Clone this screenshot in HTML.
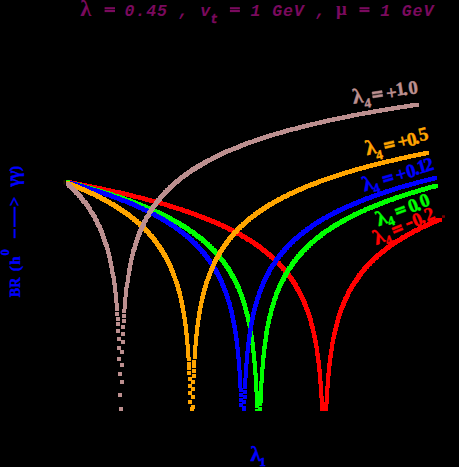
<!DOCTYPE html>
<html><head><meta charset="utf-8"><style>
html,body{margin:0;padding:0;background:#000;}
svg{display:block}
text{font-family:"Liberation Serif",serif;font-weight:bold}
.m{font-family:"Liberation Mono",monospace;font-style:italic;font-weight:bold;font-size:16.5px;fill:#7a0a5e}
.g{font-family:"Liberation Serif",serif;font-weight:bold;font-style:normal;fill:#7a0a5e}
</style></head><body>
<svg width="459" height="467" viewBox="0 0 459 467">
<rect width="459" height="467" fill="#000"/>
<defs><clipPath id="c"><rect x="0" y="0" width="459" height="411"/></clipPath></defs>
<g clip-path="url(#c)" shape-rendering="crispEdges">
<path fill="#ff0000" d="M66.1 180.1h4v4h-4zM66.9 180.3h4v4h-4zM67.7 180.4h4v4h-4zM68.6 180.6h4v4h-4zM69.4 180.8h4v4h-4zM70.3 180.9h4v4h-4zM71.1 181.1h4v4h-4zM71.9 181.2h4v4h-4zM72.8 181.4h4v4h-4zM73.6 181.5h4v4h-4zM74.5 181.7h4v4h-4zM75.3 181.9h4v4h-4zM76.1 182.0h4v4h-4zM77.0 182.2h4v4h-4zM77.8 182.3h4v4h-4zM78.7 182.5h4v4h-4zM79.5 182.7h4v4h-4zM80.3 182.8h4v4h-4zM81.2 183.0h4v4h-4zM82.0 183.2h4v4h-4zM82.9 183.3h4v4h-4zM83.7 183.5h4v4h-4zM84.5 183.7h4v4h-4zM85.4 183.8h4v4h-4zM86.2 184.0h4v4h-4zM87.1 184.2h4v4h-4zM87.9 184.3h4v4h-4zM88.7 184.5h4v4h-4zM89.6 184.7h4v4h-4zM90.4 184.8h4v4h-4zM91.3 185.0h4v4h-4zM92.1 185.2h4v4h-4zM92.9 185.4h4v4h-4zM93.8 185.5h4v4h-4zM94.6 185.7h4v4h-4zM95.5 185.9h4v4h-4zM96.3 186.0h4v4h-4zM97.1 186.2h4v4h-4zM98.0 186.4h4v4h-4zM98.8 186.6h4v4h-4zM99.7 186.8h4v4h-4zM100.5 186.9h4v4h-4zM101.3 187.1h4v4h-4zM102.2 187.3h4v4h-4zM103.0 187.5h4v4h-4zM103.9 187.6h4v4h-4zM104.7 187.8h4v4h-4zM105.5 188.0h4v4h-4zM106.4 188.2h4v4h-4zM107.2 188.4h4v4h-4zM108.1 188.6h4v4h-4zM108.9 188.7h4v4h-4zM109.7 188.9h4v4h-4zM110.6 189.1h4v4h-4zM111.4 189.3h4v4h-4zM112.3 189.5h4v4h-4zM113.1 189.7h4v4h-4zM113.9 189.9h4v4h-4zM114.8 190.1h4v4h-4zM115.6 190.3h4v4h-4zM116.5 190.4h4v4h-4zM117.3 190.6h4v4h-4zM118.1 190.8h4v4h-4zM119.0 191.0h4v4h-4zM119.8 191.2h4v4h-4zM120.7 191.4h4v4h-4zM121.5 191.6h4v4h-4zM122.3 191.8h4v4h-4zM123.2 192.0h4v4h-4zM124.0 192.2h4v4h-4zM124.9 192.4h4v4h-4zM125.7 192.6h4v4h-4zM126.5 192.8h4v4h-4zM127.4 193.0h4v4h-4zM128.2 193.2h4v4h-4zM129.1 193.4h4v4h-4zM129.9 193.6h4v4h-4zM130.7 193.8h4v4h-4zM131.6 194.0h4v4h-4zM132.4 194.2h4v4h-4zM133.3 194.5h4v4h-4zM134.1 194.7h4v4h-4zM134.9 194.9h4v4h-4zM135.8 195.1h4v4h-4zM136.6 195.3h4v4h-4zM137.5 195.5h4v4h-4zM138.3 195.7h4v4h-4zM139.1 195.9h4v4h-4zM140.0 196.2h4v4h-4zM140.8 196.4h4v4h-4zM141.7 196.6h4v4h-4zM142.5 196.8h4v4h-4zM143.3 197.0h4v4h-4zM144.2 197.3h4v4h-4zM145.0 197.5h4v4h-4zM145.9 197.7h4v4h-4zM146.7 197.9h4v4h-4zM147.5 198.2h4v4h-4zM148.4 198.4h4v4h-4zM149.2 198.6h4v4h-4zM150.1 198.8h4v4h-4zM150.9 199.1h4v4h-4zM151.7 199.3h4v4h-4zM152.6 199.5h4v4h-4zM153.4 199.8h4v4h-4zM154.3 200.0h4v4h-4zM155.1 200.2h4v4h-4zM155.9 200.5h4v4h-4zM156.8 200.7h4v4h-4zM157.6 201.0h4v4h-4zM158.5 201.2h4v4h-4zM159.3 201.4h4v4h-4zM160.1 201.7h4v4h-4zM161.0 201.9h4v4h-4zM161.8 202.2h4v4h-4zM162.7 202.4h4v4h-4zM163.5 202.7h4v4h-4zM164.3 202.9h4v4h-4zM165.2 203.2h4v4h-4zM166.0 203.4h4v4h-4zM166.9 203.7h4v4h-4zM167.7 203.9h4v4h-4zM168.5 204.2h4v4h-4zM169.4 204.5h4v4h-4zM170.2 204.7h4v4h-4zM171.1 205.0h4v4h-4zM171.9 205.2h4v4h-4zM172.7 205.5h4v4h-4zM173.6 205.8h4v4h-4zM174.4 206.0h4v4h-4zM175.3 206.3h4v4h-4zM176.1 206.6h4v4h-4zM176.9 206.8h4v4h-4zM177.8 207.1h4v4h-4zM178.6 207.4h4v4h-4zM179.5 207.7h4v4h-4zM180.3 207.9h4v4h-4zM181.1 208.2h4v4h-4zM182.0 208.5h4v4h-4zM182.8 208.8h4v4h-4zM183.7 209.1h4v4h-4zM184.5 209.4h4v4h-4zM185.3 209.6h4v4h-4zM186.2 209.9h4v4h-4zM187.0 210.2h4v4h-4zM187.9 210.5h4v4h-4zM188.7 210.8h4v4h-4zM189.5 211.1h4v4h-4zM190.4 211.4h4v4h-4zM191.2 211.7h4v4h-4zM192.1 212.0h4v4h-4zM192.9 212.3h4v4h-4zM193.7 212.6h4v4h-4zM194.6 212.9h4v4h-4zM195.4 213.3h4v4h-4zM196.3 213.6h4v4h-4zM197.1 213.9h4v4h-4zM197.9 214.2h4v4h-4zM198.8 214.5h4v4h-4zM199.6 214.8h4v4h-4zM200.5 215.2h4v4h-4zM201.3 215.5h4v4h-4zM202.1 215.8h4v4h-4zM203.0 216.2h4v4h-4zM203.8 216.5h4v4h-4zM204.7 216.8h4v4h-4zM205.5 217.2h4v4h-4zM206.3 217.5h4v4h-4zM207.2 217.8h4v4h-4zM208.0 218.2h4v4h-4zM208.9 218.5h4v4h-4zM209.7 218.9h4v4h-4zM210.5 219.2h4v4h-4zM211.4 219.6h4v4h-4zM212.2 220.0h4v4h-4zM213.1 220.3h4v4h-4zM213.9 220.7h4v4h-4zM214.7 221.0h4v4h-4zM215.6 221.4h4v4h-4zM216.4 221.8h4v4h-4zM217.3 222.2h4v4h-4zM218.1 222.5h4v4h-4zM218.9 222.9h4v4h-4zM219.8 223.3h4v4h-4zM220.6 223.7h4v4h-4zM221.5 224.1h4v4h-4zM222.3 224.5h4v4h-4zM223.1 224.9h4v4h-4zM224.0 225.3h4v4h-4zM224.8 225.7h4v4h-4zM225.5 226.0h4v4h-4zM226.3 226.4h4v4h-4zM227.0 226.7h4v4h-4zM227.7 227.1h4v4h-4zM228.4 227.5h4v4h-4zM229.1 227.8h4v4h-4zM229.9 228.2h4v4h-4zM230.6 228.6h4v4h-4zM231.3 228.9h4v4h-4zM232.0 229.3h4v4h-4zM232.7 229.7h4v4h-4zM233.5 230.1h4v4h-4zM234.2 230.5h4v4h-4zM234.9 230.8h4v4h-4zM235.6 231.2h4v4h-4zM236.3 231.6h4v4h-4zM237.1 232.0h4v4h-4zM237.8 232.4h4v4h-4zM238.5 232.8h4v4h-4zM239.2 233.2h4v4h-4zM239.9 233.6h4v4h-4zM240.7 234.1h4v4h-4zM241.4 234.5h4v4h-4zM242.1 234.9h4v4h-4zM242.8 235.3h4v4h-4zM243.5 235.8h4v4h-4zM244.3 236.2h4v4h-4zM245.0 236.6h4v4h-4zM245.7 237.1h4v4h-4zM246.4 237.5h4v4h-4zM247.1 238.0h4v4h-4zM247.9 238.4h4v4h-4zM248.6 238.9h4v4h-4zM249.3 239.3h4v4h-4zM250.0 239.8h4v4h-4zM250.7 240.3h4v4h-4zM251.5 240.8h4v4h-4zM252.2 241.2h4v4h-4zM252.9 241.7h4v4h-4zM253.6 242.2h4v4h-4zM254.3 242.7h4v4h-4zM255.1 243.2h4v4h-4zM255.8 243.7h4v4h-4zM256.5 244.2h4v4h-4zM257.2 244.8h4v4h-4zM257.9 245.3h4v4h-4zM258.7 245.8h4v4h-4zM259.4 246.4h4v4h-4zM260.1 246.9h4v4h-4zM260.8 247.5h4v4h-4zM261.5 248.0h4v4h-4zM262.3 248.6h4v4h-4zM263.0 249.1h4v4h-4zM263.7 249.7h4v4h-4zM264.4 250.3h4v4h-4zM265.1 250.9h4v4h-4zM265.9 251.5h4v4h-4zM266.6 252.1h4v4h-4zM267.3 252.7h4v4h-4zM268.0 253.3h4v4h-4zM268.7 254.0h4v4h-4zM269.3 254.5h4v4h-4zM269.9 255.0h4v4h-4zM270.5 255.6h4v4h-4zM271.1 256.1h4v4h-4zM271.7 256.7h4v4h-4zM272.3 257.3h4v4h-4zM272.9 257.8h4v4h-4zM273.5 258.4h4v4h-4zM274.1 259.0h4v4h-4zM274.7 259.6h4v4h-4zM275.3 260.2h4v4h-4zM275.9 260.8h4v4h-4zM276.5 261.4h4v4h-4zM277.1 262.0h4v4h-4zM277.7 262.7h4v4h-4zM278.3 263.3h4v4h-4zM278.9 264.0h4v4h-4zM279.5 264.6h4v4h-4zM280.1 265.3h4v4h-4zM280.7 266.0h4v4h-4zM281.3 266.7h4v4h-4zM281.9 267.4h4v4h-4zM282.5 268.1h4v4h-4zM283.1 268.8h4v4h-4zM283.7 269.5h4v4h-4zM284.3 270.3h4v4h-4zM284.9 271.0h4v4h-4zM285.5 271.8h4v4h-4zM286.1 272.6h4v4h-4zM286.7 273.4h4v4h-4zM287.2 274.0h4v4h-4zM287.7 274.7h4v4h-4zM288.2 275.3h4v4h-4zM288.7 276.0h4v4h-4zM289.1 276.7h4v4h-4zM289.6 277.4h4v4h-4zM290.1 278.1h4v4h-4zM290.6 278.8h4v4h-4zM291.1 279.5h4v4h-4zM291.5 280.2h4v4h-4zM292.0 281.0h4v4h-4zM292.5 281.7h4v4h-4zM293.0 282.5h4v4h-4zM293.5 283.3h4v4h-4zM293.9 284.1h4v4h-4zM294.4 284.9h4v4h-4zM294.9 285.7h4v4h-4zM295.4 286.6h4v4h-4zM295.9 287.4h4v4h-4zM296.3 288.3h4v4h-4zM296.8 289.2h4v4h-4zM297.3 290.1h4v4h-4zM297.8 291.0h4v4h-4zM298.3 291.9h4v4h-4zM298.6 292.6h4v4h-4zM299.0 293.4h4v4h-4zM299.3 294.1h4v4h-4zM299.7 294.9h4v4h-4zM300.1 295.6h4v4h-4zM300.4 296.4h4v4h-4zM300.8 297.2h4v4h-4zM301.1 298.0h4v4h-4zM301.5 298.8h4v4h-4zM301.9 299.6h4v4h-4zM302.2 300.5h4v4h-4zM302.6 301.3h4v4h-4zM302.9 302.2h4v4h-4zM303.3 303.1h4v4h-4zM303.7 304.0h4v4h-4zM304.0 305.0h4v4h-4zM304.4 305.9h4v4h-4zM304.7 306.9h4v4h-4zM305.1 307.9h4v4h-4zM305.5 308.9h4v4h-4zM305.8 309.9h4v4h-4zM306.2 310.9h4v4h-4zM306.5 312.0h4v4h-4zM306.9 313.1h4v4h-4zM307.3 314.3h4v4h-4zM307.5 315.0h4v4h-4zM307.7 315.8h4v4h-4zM308.0 316.6h4v4h-4zM308.2 317.4h4v4h-4zM308.5 318.2h4v4h-4zM308.7 319.1h4v4h-4zM308.9 319.9h4v4h-4zM309.2 320.8h4v4h-4zM309.4 321.7h4v4h-4zM309.7 322.6h4v4h-4zM309.9 323.5h4v4h-4zM310.1 324.4h4v4h-4zM310.4 325.4h4v4h-4zM310.6 326.3h4v4h-4zM310.9 327.3h4v4h-4zM311.1 328.4h4v4h-4zM311.3 329.4h4v4h-4zM311.6 330.5h4v4h-4zM311.8 331.5h4v4h-4zM312.1 332.7h4v4h-4zM312.3 333.8h4v4h-4zM312.5 335.0h4v4h-4zM312.8 336.2h4v4h-4zM313.0 337.4h4v4h-4zM313.3 338.6h4v4h-4zM313.5 339.9h4v4h-4zM313.7 341.3h4v4h-4zM314.0 342.6h4v4h-4zM314.2 344.1h4v4h-4zM314.5 345.5h4v4h-4zM314.7 347.0h4v4h-4zM314.9 348.6h4v4h-4zM315.1 349.4h4v4h-4zM315.2 350.2h4v4h-4zM315.3 351.0h4v4h-4zM315.4 351.8h4v4h-4zM315.5 352.7h4v4h-4zM315.7 353.6h4v4h-4zM315.8 354.4h4v4h-4zM315.9 355.3h4v4h-4zM316.0 356.3h4v4h-4zM316.1 357.2h4v4h-4zM316.3 358.2h4v4h-4zM316.4 359.1h4v4h-4zM316.5 360.1h4v4h-4zM316.6 361.1h4v4h-4zM316.7 362.2h4v4h-4zM316.9 363.3h4v4h-4zM317.0 364.3h4v4h-4zM317.1 365.5h4v4h-4zM317.2 366.6h4v4h-4zM317.3 367.8h4v4h-4zM317.5 369.0h4v4h-4zM317.6 370.2h4v4h-4zM317.7 371.5h4v4h-4zM317.8 372.8h4v4h-4zM317.9 374.1h4v4h-4zM318.1 375.5h4v4h-4zM318.2 376.9h4v4h-4zM318.3 378.4h4v4h-4zM318.4 379.9h4v4h-4zM318.5 381.4h4v4h-4zM318.7 383.0h4v4h-4zM318.8 384.7h4v4h-4zM318.9 386.4h4v4h-4zM319.0 388.2h4v4h-4zM319.1 390.1h4v4h-4zM319.3 392.0h4v4h-4zM319.4 394.1h4v4h-4zM319.5 396.2h4v4h-4zM319.6 398.4h4v4h-4zM319.7 400.7h4v4h-4zM319.9 403.2h4v4h-4zM320.0 405.8h4v4h-4zM320.1 408.5h4v4h-4zM324.2 407.1h4v4h-4zM324.3 404.4h4v4h-4zM324.4 401.9h4v4h-4zM324.5 399.5h4v4h-4zM324.7 397.3h4v4h-4zM324.8 395.1h4v4h-4zM324.9 393.0h4v4h-4zM325.0 391.1h4v4h-4zM325.1 389.2h4v4h-4zM325.3 387.3h4v4h-4zM325.4 385.6h4v4h-4zM325.5 383.9h4v4h-4zM325.6 382.2h4v4h-4zM325.7 380.6h4v4h-4zM325.9 379.1h4v4h-4zM326.0 377.6h4v4h-4zM326.1 376.2h4v4h-4zM326.2 374.8h4v4h-4zM326.3 373.4h4v4h-4zM326.5 372.1h4v4h-4zM326.6 370.8h4v4h-4zM326.7 369.6h4v4h-4zM326.8 368.4h4v4h-4zM326.9 367.2h4v4h-4zM327.1 366.0h4v4h-4zM327.2 364.9h4v4h-4zM327.3 363.8h4v4h-4zM327.4 362.7h4v4h-4zM327.5 361.7h4v4h-4zM327.7 360.6h4v4h-4zM327.8 359.6h4v4h-4zM327.9 358.6h4v4h-4zM328.0 357.7h4v4h-4zM328.1 356.7h4v4h-4zM328.3 355.8h4v4h-4zM328.4 354.9h4v4h-4zM328.5 354.0h4v4h-4zM328.6 353.1h4v4h-4zM328.7 352.3h4v4h-4zM328.9 351.4h4v4h-4zM329.0 350.6h4v4h-4zM329.1 349.8h4v4h-4zM329.2 349.0h4v4h-4zM329.5 347.4h4v4h-4zM329.7 345.9h4v4h-4zM329.9 344.4h4v4h-4zM330.2 343.0h4v4h-4zM330.4 341.6h4v4h-4zM330.7 340.3h4v4h-4zM330.9 339.0h4v4h-4zM331.1 337.7h4v4h-4zM331.4 336.5h4v4h-4zM331.6 335.3h4v4h-4zM331.9 334.1h4v4h-4zM332.1 332.9h4v4h-4zM332.3 331.8h4v4h-4zM332.6 330.7h4v4h-4zM332.8 329.7h4v4h-4zM333.1 328.6h4v4h-4zM333.3 327.6h4v4h-4zM333.5 326.6h4v4h-4zM333.8 325.6h4v4h-4zM334.0 324.7h4v4h-4zM334.3 323.7h4v4h-4zM334.5 322.8h4v4h-4zM334.7 321.9h4v4h-4zM335.0 321.0h4v4h-4zM335.2 320.1h4v4h-4zM335.5 319.3h4v4h-4zM335.7 318.4h4v4h-4zM335.9 317.6h4v4h-4zM336.2 316.8h4v4h-4zM336.4 316.0h4v4h-4zM336.7 315.2h4v4h-4zM336.9 314.4h4v4h-4zM337.3 313.3h4v4h-4zM337.6 312.2h4v4h-4zM338.0 311.1h4v4h-4zM338.3 310.1h4v4h-4zM338.7 309.0h4v4h-4zM339.1 308.0h4v4h-4zM339.4 307.0h4v4h-4zM339.8 306.1h4v4h-4zM340.1 305.1h4v4h-4zM340.5 304.2h4v4h-4zM340.9 303.3h4v4h-4zM341.2 302.4h4v4h-4zM341.6 301.5h4v4h-4zM341.9 300.6h4v4h-4zM342.3 299.8h4v4h-4zM342.7 298.9h4v4h-4zM343.0 298.1h4v4h-4zM343.4 297.3h4v4h-4zM343.7 296.5h4v4h-4zM344.1 295.8h4v4h-4zM344.5 295.0h4v4h-4zM344.8 294.2h4v4h-4zM345.2 293.5h4v4h-4zM345.5 292.8h4v4h-4zM345.9 292.0h4v4h-4zM346.4 291.1h4v4h-4zM346.9 290.2h4v4h-4zM347.3 289.3h4v4h-4zM347.8 288.4h4v4h-4zM348.3 287.5h4v4h-4zM348.8 286.7h4v4h-4zM349.3 285.8h4v4h-4zM349.7 285.0h4v4h-4zM350.2 284.2h4v4h-4zM350.7 283.4h4v4h-4zM351.2 282.6h4v4h-4zM351.7 281.8h4v4h-4zM352.1 281.1h4v4h-4zM352.6 280.3h4v4h-4zM353.1 279.6h4v4h-4zM353.6 278.9h4v4h-4zM354.1 278.2h4v4h-4zM354.5 277.5h4v4h-4zM355.0 276.8h4v4h-4zM355.5 276.1h4v4h-4zM356.0 275.4h4v4h-4zM356.5 274.7h4v4h-4zM356.9 274.1h4v4h-4zM357.4 273.4h4v4h-4zM358.0 272.6h4v4h-4zM358.6 271.9h4v4h-4zM359.2 271.1h4v4h-4zM359.8 270.3h4v4h-4zM360.4 269.6h4v4h-4zM361.0 268.9h4v4h-4zM361.6 268.1h4v4h-4zM362.2 267.4h4v4h-4zM362.8 266.7h4v4h-4zM363.4 266.0h4v4h-4zM364.0 265.4h4v4h-4zM364.6 264.7h4v4h-4zM365.2 264.0h4v4h-4zM365.8 263.4h4v4h-4zM366.4 262.7h4v4h-4zM367.0 262.1h4v4h-4zM367.6 261.5h4v4h-4zM368.2 260.9h4v4h-4zM368.8 260.3h4v4h-4zM369.4 259.7h4v4h-4zM370.0 259.1h4v4h-4zM370.6 258.5h4v4h-4zM371.2 257.9h4v4h-4zM371.8 257.3h4v4h-4zM372.4 256.8h4v4h-4zM373.0 256.2h4v4h-4zM373.6 255.6h4v4h-4zM374.2 255.1h4v4h-4zM374.8 254.6h4v4h-4zM375.4 254.0h4v4h-4zM376.1 253.4h4v4h-4zM376.9 252.8h4v4h-4zM377.6 252.2h4v4h-4zM378.3 251.6h4v4h-4zM379.0 251.0h4v4h-4zM379.7 250.4h4v4h-4zM380.5 249.8h4v4h-4zM381.2 249.2h4v4h-4zM381.9 248.6h4v4h-4zM382.6 248.1h4v4h-4zM383.3 247.5h4v4h-4zM384.1 247.0h4v4h-4zM384.8 246.4h4v4h-4zM385.5 245.9h4v4h-4zM386.2 245.3h4v4h-4zM386.9 244.8h4v4h-4zM387.7 244.3h4v4h-4zM388.4 243.8h4v4h-4zM389.1 243.3h4v4h-4zM389.8 242.8h4v4h-4zM390.5 242.3h4v4h-4zM391.3 241.8h4v4h-4zM392.0 241.3h4v4h-4zM392.7 240.8h4v4h-4zM393.4 240.3h4v4h-4zM394.1 239.9h4v4h-4zM394.9 239.4h4v4h-4zM395.6 238.9h4v4h-4zM396.3 238.5h4v4h-4zM397.0 238.0h4v4h-4zM397.7 237.6h4v4h-4zM398.5 237.1h4v4h-4zM399.2 236.7h4v4h-4zM399.9 236.2h4v4h-4zM400.6 235.8h4v4h-4zM401.3 235.4h4v4h-4zM402.1 234.9h4v4h-4zM402.8 234.5h4v4h-4zM403.5 234.1h4v4h-4zM404.2 233.7h4v4h-4zM404.9 233.3h4v4h-4zM405.7 232.9h4v4h-4zM406.4 232.5h4v4h-4zM407.1 232.1h4v4h-4zM407.8 231.7h4v4h-4zM408.5 231.3h4v4h-4zM409.3 230.9h4v4h-4zM410.0 230.5h4v4h-4zM410.7 230.1h4v4h-4zM411.4 229.7h4v4h-4zM412.1 229.3h4v4h-4zM412.9 229.0h4v4h-4zM413.6 228.6h4v4h-4zM414.3 228.2h4v4h-4zM415.0 227.9h4v4h-4zM415.7 227.5h4v4h-4zM416.5 227.1h4v4h-4zM417.2 226.8h4v4h-4zM417.9 226.4h4v4h-4zM418.6 226.1h4v4h-4zM419.3 225.7h4v4h-4zM420.2 225.3h4v4h-4zM421.0 224.9h4v4h-4zM421.9 224.5h4v4h-4zM422.7 224.1h4v4h-4zM423.5 223.7h4v4h-4zM424.4 223.3h4v4h-4zM425.2 223.0h4v4h-4zM426.1 222.6h4v4h-4zM426.9 222.2h4v4h-4zM427.7 221.8h4v4h-4zM428.6 221.4h4v4h-4zM429.4 221.1h4v4h-4zM430.3 220.7h4v4h-4zM431.1 220.3h4v4h-4zM431.9 220.0h4v4h-4zM432.8 219.6h4v4h-4zM433.6 219.3h4v4h-4zM434.5 218.9h4v4h-4zM435.3 218.6h4v4h-4zM436.1 218.2h4v4h-4zM437.0 217.9h4v4h-4zM437.8 217.5h4v4h-4z"/>
<path fill="#00ff00" d="M66.1 180.4h4v4h-4zM66.9 180.6h4v4h-4zM67.7 180.9h4v4h-4zM68.6 181.1h4v4h-4zM69.4 181.3h4v4h-4zM70.3 181.5h4v4h-4zM71.1 181.7h4v4h-4zM71.9 181.9h4v4h-4zM72.8 182.1h4v4h-4zM73.6 182.3h4v4h-4zM74.5 182.6h4v4h-4zM75.3 182.8h4v4h-4zM76.1 183.0h4v4h-4zM77.0 183.2h4v4h-4zM77.8 183.4h4v4h-4zM78.7 183.7h4v4h-4zM79.5 183.9h4v4h-4zM80.3 184.1h4v4h-4zM81.2 184.3h4v4h-4zM82.0 184.5h4v4h-4zM82.9 184.8h4v4h-4zM83.7 185.0h4v4h-4zM84.5 185.2h4v4h-4zM85.4 185.5h4v4h-4zM86.2 185.7h4v4h-4zM87.1 185.9h4v4h-4zM87.9 186.2h4v4h-4zM88.7 186.4h4v4h-4zM89.6 186.6h4v4h-4zM90.4 186.9h4v4h-4zM91.3 187.1h4v4h-4zM92.1 187.3h4v4h-4zM92.9 187.6h4v4h-4zM93.8 187.8h4v4h-4zM94.6 188.1h4v4h-4zM95.5 188.3h4v4h-4zM96.3 188.6h4v4h-4zM97.1 188.8h4v4h-4zM98.0 189.1h4v4h-4zM98.8 189.3h4v4h-4zM99.7 189.6h4v4h-4zM100.5 189.8h4v4h-4zM101.3 190.1h4v4h-4zM102.2 190.3h4v4h-4zM103.0 190.6h4v4h-4zM103.9 190.8h4v4h-4zM104.7 191.1h4v4h-4zM105.5 191.4h4v4h-4zM106.4 191.6h4v4h-4zM107.2 191.9h4v4h-4zM108.1 192.1h4v4h-4zM108.9 192.4h4v4h-4zM109.7 192.7h4v4h-4zM110.6 192.9h4v4h-4zM111.4 193.2h4v4h-4zM112.3 193.5h4v4h-4zM113.1 193.8h4v4h-4zM113.9 194.0h4v4h-4zM114.8 194.3h4v4h-4zM115.6 194.6h4v4h-4zM116.5 194.9h4v4h-4zM117.3 195.2h4v4h-4zM118.1 195.4h4v4h-4zM119.0 195.7h4v4h-4zM119.8 196.0h4v4h-4zM120.7 196.3h4v4h-4zM121.5 196.6h4v4h-4zM122.3 196.9h4v4h-4zM123.2 197.2h4v4h-4zM124.0 197.5h4v4h-4zM124.9 197.8h4v4h-4zM125.7 198.1h4v4h-4zM126.5 198.4h4v4h-4zM127.4 198.7h4v4h-4zM128.2 199.0h4v4h-4zM129.1 199.3h4v4h-4zM129.9 199.6h4v4h-4zM130.7 199.9h4v4h-4zM131.6 200.2h4v4h-4zM132.4 200.6h4v4h-4zM133.3 200.9h4v4h-4zM134.1 201.2h4v4h-4zM134.9 201.5h4v4h-4zM135.8 201.9h4v4h-4zM136.6 202.2h4v4h-4zM137.5 202.5h4v4h-4zM138.3 202.8h4v4h-4zM139.1 203.2h4v4h-4zM140.0 203.5h4v4h-4zM140.8 203.9h4v4h-4zM141.7 204.2h4v4h-4zM142.5 204.5h4v4h-4zM143.3 204.9h4v4h-4zM144.2 205.2h4v4h-4zM145.0 205.6h4v4h-4zM145.9 206.0h4v4h-4zM146.7 206.3h4v4h-4zM147.5 206.7h4v4h-4zM148.4 207.0h4v4h-4zM149.2 207.4h4v4h-4zM150.1 207.8h4v4h-4zM150.9 208.1h4v4h-4zM151.7 208.5h4v4h-4zM152.6 208.9h4v4h-4zM153.4 209.3h4v4h-4zM154.3 209.7h4v4h-4zM155.1 210.1h4v4h-4zM155.9 210.4h4v4h-4zM156.8 210.8h4v4h-4zM157.6 211.2h4v4h-4zM158.5 211.6h4v4h-4zM159.3 212.0h4v4h-4zM160.1 212.4h4v4h-4zM161.0 212.9h4v4h-4zM161.8 213.3h4v4h-4zM162.7 213.7h4v4h-4zM163.5 214.1h4v4h-4zM164.3 214.5h4v4h-4zM165.2 215.0h4v4h-4zM166.0 215.4h4v4h-4zM166.9 215.8h4v4h-4zM167.7 216.3h4v4h-4zM168.5 216.7h4v4h-4zM169.4 217.2h4v4h-4zM170.2 217.6h4v4h-4zM171.1 218.1h4v4h-4zM171.9 218.6h4v4h-4zM172.6 219.0h4v4h-4zM173.3 219.3h4v4h-4zM174.0 219.7h4v4h-4zM174.7 220.1h4v4h-4zM175.4 220.5h4v4h-4zM176.1 221.0h4v4h-4zM176.8 221.4h4v4h-4zM177.5 221.8h4v4h-4zM178.2 222.2h4v4h-4zM178.9 222.6h4v4h-4zM179.6 223.0h4v4h-4zM180.3 223.5h4v4h-4zM181.0 223.9h4v4h-4zM181.7 224.3h4v4h-4zM182.4 224.8h4v4h-4zM183.1 225.2h4v4h-4zM183.8 225.7h4v4h-4zM184.5 226.1h4v4h-4zM185.2 226.6h4v4h-4zM185.9 227.1h4v4h-4zM186.6 227.5h4v4h-4zM187.3 228.0h4v4h-4zM188.0 228.5h4v4h-4zM188.7 229.0h4v4h-4zM189.4 229.5h4v4h-4zM190.1 229.9h4v4h-4zM190.8 230.4h4v4h-4zM191.5 230.9h4v4h-4zM192.2 231.5h4v4h-4zM192.9 232.0h4v4h-4zM193.6 232.5h4v4h-4zM194.3 233.0h4v4h-4zM195.0 233.5h4v4h-4zM195.7 234.1h4v4h-4zM196.4 234.6h4v4h-4zM197.1 235.2h4v4h-4zM197.8 235.7h4v4h-4zM198.5 236.3h4v4h-4zM199.2 236.9h4v4h-4zM199.9 237.4h4v4h-4zM200.6 238.0h4v4h-4zM201.3 238.6h4v4h-4zM202.0 239.2h4v4h-4zM202.7 239.8h4v4h-4zM203.4 240.4h4v4h-4zM204.1 241.1h4v4h-4zM204.8 241.7h4v4h-4zM205.5 242.3h4v4h-4zM206.2 243.0h4v4h-4zM206.9 243.6h4v4h-4zM207.6 244.3h4v4h-4zM208.3 245.0h4v4h-4zM209.0 245.7h4v4h-4zM209.7 246.4h4v4h-4zM210.4 247.1h4v4h-4zM211.0 247.6h4v4h-4zM211.5 248.2h4v4h-4zM212.1 248.8h4v4h-4zM212.6 249.4h4v4h-4zM213.2 250.0h4v4h-4zM213.8 250.6h4v4h-4zM214.3 251.2h4v4h-4zM214.9 251.9h4v4h-4zM215.4 252.5h4v4h-4zM216.0 253.1h4v4h-4zM216.6 253.8h4v4h-4zM217.1 254.5h4v4h-4zM217.7 255.1h4v4h-4zM218.2 255.8h4v4h-4zM218.8 256.5h4v4h-4zM219.4 257.2h4v4h-4zM219.9 257.9h4v4h-4zM220.5 258.6h4v4h-4zM221.0 259.4h4v4h-4zM221.6 260.1h4v4h-4zM222.2 260.9h4v4h-4zM222.7 261.6h4v4h-4zM223.3 262.4h4v4h-4zM223.8 263.2h4v4h-4zM224.4 264.0h4v4h-4zM225.0 264.9h4v4h-4zM225.5 265.7h4v4h-4zM226.1 266.5h4v4h-4zM226.6 267.4h4v4h-4zM227.2 268.3h4v4h-4zM227.8 269.2h4v4h-4zM228.2 269.9h4v4h-4zM228.6 270.6h4v4h-4zM229.0 271.3h4v4h-4zM229.4 272.0h4v4h-4zM229.9 272.8h4v4h-4zM230.3 273.5h4v4h-4zM230.7 274.3h4v4h-4zM231.1 275.0h4v4h-4zM231.5 275.8h4v4h-4zM232.0 276.6h4v4h-4zM232.4 277.4h4v4h-4zM232.8 278.2h4v4h-4zM233.2 279.1h4v4h-4zM233.6 279.9h4v4h-4zM234.1 280.8h4v4h-4zM234.5 281.7h4v4h-4zM234.9 282.6h4v4h-4zM235.3 283.5h4v4h-4zM235.7 284.4h4v4h-4zM236.2 285.4h4v4h-4zM236.6 286.3h4v4h-4zM237.0 287.3h4v4h-4zM237.4 288.3h4v4h-4zM237.8 289.4h4v4h-4zM238.3 290.4h4v4h-4zM238.7 291.5h4v4h-4zM239.1 292.6h4v4h-4zM239.4 293.4h4v4h-4zM239.7 294.2h4v4h-4zM239.9 294.9h4v4h-4zM240.2 295.7h4v4h-4zM240.5 296.5h4v4h-4zM240.8 297.4h4v4h-4zM241.1 298.2h4v4h-4zM241.3 299.0h4v4h-4zM241.6 299.9h4v4h-4zM241.9 300.8h4v4h-4zM242.2 301.7h4v4h-4zM242.5 302.6h4v4h-4zM242.7 303.6h4v4h-4zM243.0 304.5h4v4h-4zM243.3 305.5h4v4h-4zM243.6 306.5h4v4h-4zM243.9 307.5h4v4h-4zM244.1 308.5h4v4h-4zM244.4 309.6h4v4h-4zM244.7 310.7h4v4h-4zM245.0 311.8h4v4h-4zM245.3 312.9h4v4h-4zM245.5 314.1h4v4h-4zM245.8 315.3h4v4h-4zM246.1 316.5h4v4h-4zM246.4 317.8h4v4h-4zM246.7 319.1h4v4h-4zM246.9 320.4h4v4h-4zM247.2 321.8h4v4h-4zM247.5 323.2h4v4h-4zM247.8 324.6h4v4h-4zM248.1 326.1h4v4h-4zM248.3 327.7h4v4h-4zM248.5 328.5h4v4h-4zM248.6 329.3h4v4h-4zM248.8 330.1h4v4h-4zM248.9 331.0h4v4h-4zM249.0 331.8h4v4h-4zM249.2 332.7h4v4h-4zM249.3 333.6h4v4h-4zM249.5 334.5h4v4h-4zM249.6 335.4h4v4h-4zM249.7 336.3h4v4h-4zM249.9 337.3h4v4h-4zM250.0 338.3h4v4h-4zM250.2 339.3h4v4h-4zM250.3 340.3h4v4h-4zM250.4 341.3h4v4h-4zM250.6 342.4h4v4h-4zM250.7 343.5h4v4h-4zM250.9 344.6h4v4h-4zM251.0 345.7h4v4h-4zM251.1 346.9h4v4h-4zM251.3 348.1h4v4h-4zM251.4 349.3h4v4h-4zM251.6 350.6h4v4h-4zM251.7 351.9h4v4h-4zM251.8 353.2h4v4h-4zM252.0 354.6h4v4h-4zM252.1 356.0h4v4h-4zM252.3 357.5h4v4h-4zM252.4 359.0h4v4h-4zM252.5 360.6h4v4h-4zM252.7 362.2h4v4h-4zM252.8 363.8h4v4h-4zM253.0 365.6h4v4h-4zM253.1 367.4h4v4h-4zM253.2 369.2h4v4h-4zM253.4 371.2h4v4h-4zM253.5 373.2h4v4h-4zM253.7 375.3h4v4h-4zM253.8 377.5h4v4h-4zM253.9 379.9h4v4h-4zM254.1 382.3h4v4h-4zM254.2 384.9h4v4h-4zM254.4 387.6h4v4h-4zM254.5 390.5h4v4h-4zM254.6 393.6h4v4h-4zM254.8 396.9h4v4h-4zM254.9 400.5h4v4h-4zM255.1 404.3h4v4h-4zM255.2 408.5h4v4h-4zM258.3 407.0h4v4h-4zM258.4 402.4h4v4h-4zM258.6 398.7h4v4h-4zM258.7 395.2h4v4h-4zM258.8 392.0h4v4h-4zM259.0 389.1h4v4h-4zM259.1 386.2h4v4h-4zM259.3 383.6h4v4h-4zM259.4 381.1h4v4h-4zM259.5 378.7h4v4h-4zM259.7 376.4h4v4h-4zM259.8 374.2h4v4h-4zM260.0 372.2h4v4h-4zM260.1 370.2h4v4h-4zM260.2 368.3h4v4h-4zM260.4 366.5h4v4h-4zM260.5 364.7h4v4h-4zM260.7 363.0h4v4h-4zM260.8 361.4h4v4h-4zM260.9 359.8h4v4h-4zM261.1 358.2h4v4h-4zM261.2 356.8h4v4h-4zM261.4 355.3h4v4h-4zM261.5 353.9h4v4h-4zM261.6 352.6h4v4h-4zM261.8 351.2h4v4h-4zM261.9 350.0h4v4h-4zM262.1 348.7h4v4h-4zM262.2 347.5h4v4h-4zM262.3 346.3h4v4h-4zM262.5 345.2h4v4h-4zM262.6 344.0h4v4h-4zM262.8 342.9h4v4h-4zM262.9 341.9h4v4h-4zM263.0 340.8h4v4h-4zM263.2 339.8h4v4h-4zM263.3 338.8h4v4h-4zM263.5 337.8h4v4h-4zM263.6 336.8h4v4h-4zM263.7 335.9h4v4h-4zM263.9 334.9h4v4h-4zM264.0 334.0h4v4h-4zM264.2 333.1h4v4h-4zM264.3 332.3h4v4h-4zM264.4 331.4h4v4h-4zM264.6 330.5h4v4h-4zM264.7 329.7h4v4h-4zM264.9 328.9h4v4h-4zM265.0 328.1h4v4h-4zM265.1 327.3h4v4h-4zM265.4 325.8h4v4h-4zM265.7 324.3h4v4h-4zM266.0 322.8h4v4h-4zM266.3 321.4h4v4h-4zM266.5 320.1h4v4h-4zM266.8 318.7h4v4h-4zM267.1 317.5h4v4h-4zM267.4 316.2h4v4h-4zM267.7 315.0h4v4h-4zM267.9 313.8h4v4h-4zM268.2 312.6h4v4h-4zM268.5 311.5h4v4h-4zM268.8 310.4h4v4h-4zM269.1 309.3h4v4h-4zM269.3 308.3h4v4h-4zM269.6 307.2h4v4h-4zM269.9 306.2h4v4h-4zM270.2 305.2h4v4h-4zM270.5 304.3h4v4h-4zM270.7 303.3h4v4h-4zM271.0 302.4h4v4h-4zM271.3 301.5h4v4h-4zM271.6 300.6h4v4h-4zM271.9 299.7h4v4h-4zM272.1 298.8h4v4h-4zM272.4 298.0h4v4h-4zM272.7 297.2h4v4h-4zM273.0 296.3h4v4h-4zM273.3 295.5h4v4h-4zM273.5 294.7h4v4h-4zM273.8 294.0h4v4h-4zM274.1 293.2h4v4h-4zM274.4 292.4h4v4h-4zM274.8 291.3h4v4h-4zM275.2 290.3h4v4h-4zM275.6 289.2h4v4h-4zM276.1 288.2h4v4h-4zM276.5 287.2h4v4h-4zM276.9 286.2h4v4h-4zM277.3 285.2h4v4h-4zM277.7 284.2h4v4h-4zM278.2 283.3h4v4h-4zM278.6 282.4h4v4h-4zM279.0 281.5h4v4h-4zM279.4 280.6h4v4h-4zM279.8 279.8h4v4h-4zM280.3 278.9h4v4h-4zM280.7 278.1h4v4h-4zM281.1 277.3h4v4h-4zM281.5 276.5h4v4h-4zM281.9 275.7h4v4h-4zM282.4 274.9h4v4h-4zM282.8 274.1h4v4h-4zM283.2 273.4h4v4h-4zM283.6 272.6h4v4h-4zM284.0 271.9h4v4h-4zM284.5 271.2h4v4h-4zM284.9 270.5h4v4h-4zM285.3 269.8h4v4h-4zM285.7 269.1h4v4h-4zM286.3 268.2h4v4h-4zM286.8 267.3h4v4h-4zM287.4 266.4h4v4h-4zM288.0 265.6h4v4h-4zM288.5 264.8h4v4h-4zM289.1 263.9h4v4h-4zM289.6 263.1h4v4h-4zM290.2 262.3h4v4h-4zM290.8 261.5h4v4h-4zM291.3 260.8h4v4h-4zM291.9 260.0h4v4h-4zM292.4 259.3h4v4h-4zM293.0 258.5h4v4h-4zM293.6 257.8h4v4h-4zM294.1 257.1h4v4h-4zM294.7 256.4h4v4h-4zM295.2 255.7h4v4h-4zM295.8 255.0h4v4h-4zM296.4 254.4h4v4h-4zM296.9 253.7h4v4h-4zM297.5 253.1h4v4h-4zM298.0 252.4h4v4h-4zM298.6 251.8h4v4h-4zM299.2 251.2h4v4h-4zM299.7 250.5h4v4h-4zM300.3 249.9h4v4h-4zM300.8 249.3h4v4h-4zM301.4 248.7h4v4h-4zM302.0 248.2h4v4h-4zM302.5 247.6h4v4h-4zM303.1 247.0h4v4h-4zM303.8 246.3h4v4h-4zM304.5 245.6h4v4h-4zM305.2 244.9h4v4h-4zM305.9 244.2h4v4h-4zM306.6 243.6h4v4h-4zM307.3 242.9h4v4h-4zM308.0 242.3h4v4h-4zM308.7 241.6h4v4h-4zM309.4 241.0h4v4h-4zM310.1 240.4h4v4h-4zM310.8 239.8h4v4h-4zM311.5 239.2h4v4h-4zM312.2 238.6h4v4h-4zM312.9 238.0h4v4h-4zM313.6 237.4h4v4h-4zM314.3 236.8h4v4h-4zM315.0 236.2h4v4h-4zM315.7 235.7h4v4h-4zM316.4 235.1h4v4h-4zM317.1 234.6h4v4h-4zM317.8 234.0h4v4h-4zM318.5 233.5h4v4h-4zM319.2 233.0h4v4h-4zM319.9 232.4h4v4h-4zM320.6 231.9h4v4h-4zM321.3 231.4h4v4h-4zM322.0 230.9h4v4h-4zM322.7 230.4h4v4h-4zM323.4 229.9h4v4h-4zM324.1 229.4h4v4h-4zM324.8 228.9h4v4h-4zM325.5 228.4h4v4h-4zM326.2 228.0h4v4h-4zM326.9 227.5h4v4h-4zM327.6 227.0h4v4h-4zM328.3 226.6h4v4h-4zM329.0 226.1h4v4h-4zM329.7 225.6h4v4h-4zM330.4 225.2h4v4h-4zM331.1 224.7h4v4h-4zM331.8 224.3h4v4h-4zM332.5 223.9h4v4h-4zM333.2 223.4h4v4h-4zM333.9 223.0h4v4h-4zM334.6 222.6h4v4h-4zM335.3 222.2h4v4h-4zM336.0 221.7h4v4h-4zM336.7 221.3h4v4h-4zM337.4 220.9h4v4h-4zM338.1 220.5h4v4h-4zM338.8 220.1h4v4h-4zM339.5 219.7h4v4h-4zM340.2 219.3h4v4h-4zM340.9 218.9h4v4h-4zM341.6 218.5h4v4h-4zM342.4 218.1h4v4h-4zM343.3 217.6h4v4h-4zM344.1 217.1h4v4h-4zM344.9 216.7h4v4h-4zM345.8 216.3h4v4h-4zM346.6 215.8h4v4h-4zM347.5 215.4h4v4h-4zM348.3 214.9h4v4h-4zM349.1 214.5h4v4h-4zM350.0 214.1h4v4h-4zM350.8 213.7h4v4h-4zM351.7 213.2h4v4h-4zM352.5 212.8h4v4h-4zM353.3 212.4h4v4h-4zM354.2 212.0h4v4h-4zM355.0 211.6h4v4h-4zM355.9 211.2h4v4h-4zM356.7 210.8h4v4h-4zM357.5 210.4h4v4h-4zM358.4 210.0h4v4h-4zM359.2 209.6h4v4h-4zM360.1 209.2h4v4h-4zM360.9 208.9h4v4h-4zM361.7 208.5h4v4h-4zM362.6 208.1h4v4h-4zM363.4 207.7h4v4h-4zM364.3 207.4h4v4h-4zM365.1 207.0h4v4h-4zM365.9 206.6h4v4h-4zM366.8 206.3h4v4h-4zM367.6 205.9h4v4h-4zM368.5 205.6h4v4h-4zM369.3 205.2h4v4h-4zM370.1 204.9h4v4h-4zM371.0 204.5h4v4h-4zM371.8 204.2h4v4h-4zM372.7 203.8h4v4h-4zM373.5 203.5h4v4h-4zM374.3 203.2h4v4h-4zM375.2 202.8h4v4h-4zM376.0 202.5h4v4h-4zM376.9 202.2h4v4h-4zM377.7 201.8h4v4h-4zM378.5 201.5h4v4h-4zM379.4 201.2h4v4h-4zM380.2 200.9h4v4h-4zM381.1 200.5h4v4h-4zM381.9 200.2h4v4h-4zM382.7 199.9h4v4h-4zM383.6 199.6h4v4h-4zM384.4 199.3h4v4h-4zM385.3 199.0h4v4h-4zM386.1 198.7h4v4h-4zM386.9 198.4h4v4h-4zM387.8 198.1h4v4h-4zM388.6 197.8h4v4h-4zM389.5 197.5h4v4h-4zM390.3 197.2h4v4h-4zM391.1 196.9h4v4h-4zM392.0 196.6h4v4h-4zM392.8 196.3h4v4h-4zM393.7 196.0h4v4h-4zM394.5 195.7h4v4h-4zM395.3 195.4h4v4h-4zM396.2 195.1h4v4h-4zM397.0 194.9h4v4h-4zM397.9 194.6h4v4h-4zM398.7 194.3h4v4h-4zM399.5 194.0h4v4h-4zM400.4 193.7h4v4h-4zM401.2 193.5h4v4h-4zM402.1 193.2h4v4h-4zM402.9 192.9h4v4h-4zM403.7 192.7h4v4h-4zM404.6 192.4h4v4h-4zM405.4 192.1h4v4h-4zM406.3 191.9h4v4h-4zM407.1 191.6h4v4h-4zM407.9 191.3h4v4h-4zM408.8 191.1h4v4h-4zM409.6 190.8h4v4h-4zM410.5 190.6h4v4h-4zM411.3 190.3h4v4h-4zM412.1 190.0h4v4h-4zM413.0 189.8h4v4h-4zM413.8 189.5h4v4h-4zM414.7 189.3h4v4h-4zM415.5 189.0h4v4h-4zM416.3 188.8h4v4h-4zM417.2 188.5h4v4h-4zM418.0 188.3h4v4h-4zM418.9 188.0h4v4h-4zM419.7 187.8h4v4h-4zM420.5 187.6h4v4h-4zM421.4 187.3h4v4h-4zM422.2 187.1h4v4h-4zM423.1 186.8h4v4h-4zM423.9 186.6h4v4h-4zM424.7 186.4h4v4h-4zM425.6 186.1h4v4h-4zM426.4 185.9h4v4h-4zM427.3 185.7h4v4h-4zM428.1 185.4h4v4h-4zM428.9 185.2h4v4h-4zM429.8 185.0h4v4h-4zM430.6 184.8h4v4h-4zM431.5 184.5h4v4h-4zM432.3 184.3h4v4h-4zM433.1 184.1h4v4h-4zM434.0 183.9h4v4h-4z"/>
<path fill="#0000ff" d="M66.1 180.6h4v4h-4zM66.9 180.8h4v4h-4zM67.7 181.0h4v4h-4zM68.5 181.2h4v4h-4zM69.3 181.4h4v4h-4zM70.1 181.7h4v4h-4zM70.9 181.9h4v4h-4zM71.7 182.1h4v4h-4zM72.5 182.3h4v4h-4zM73.3 182.6h4v4h-4zM74.1 182.8h4v4h-4zM74.9 183.0h4v4h-4zM75.7 183.2h4v4h-4zM76.5 183.5h4v4h-4zM77.3 183.7h4v4h-4zM78.1 183.9h4v4h-4zM78.9 184.2h4v4h-4zM79.7 184.4h4v4h-4zM80.5 184.6h4v4h-4zM81.3 184.9h4v4h-4zM82.1 185.1h4v4h-4zM82.9 185.3h4v4h-4zM83.7 185.6h4v4h-4zM84.5 185.8h4v4h-4zM85.3 186.1h4v4h-4zM86.1 186.3h4v4h-4zM86.9 186.5h4v4h-4zM87.7 186.8h4v4h-4zM88.5 187.0h4v4h-4zM89.3 187.3h4v4h-4zM90.1 187.5h4v4h-4zM90.9 187.8h4v4h-4zM91.7 188.0h4v4h-4zM92.5 188.3h4v4h-4zM93.3 188.5h4v4h-4zM94.1 188.8h4v4h-4zM94.9 189.1h4v4h-4zM95.7 189.3h4v4h-4zM96.5 189.6h4v4h-4zM97.3 189.8h4v4h-4zM98.1 190.1h4v4h-4zM98.9 190.4h4v4h-4zM99.7 190.6h4v4h-4zM100.5 190.9h4v4h-4zM101.3 191.2h4v4h-4zM102.1 191.4h4v4h-4zM102.9 191.7h4v4h-4zM103.7 192.0h4v4h-4zM104.5 192.3h4v4h-4zM105.3 192.5h4v4h-4zM106.1 192.8h4v4h-4zM106.9 193.1h4v4h-4zM107.7 193.4h4v4h-4zM108.5 193.7h4v4h-4zM109.3 193.9h4v4h-4zM110.1 194.2h4v4h-4zM110.9 194.5h4v4h-4zM111.7 194.8h4v4h-4zM112.5 195.1h4v4h-4zM113.3 195.4h4v4h-4zM114.1 195.7h4v4h-4zM114.9 196.0h4v4h-4zM115.7 196.3h4v4h-4zM116.5 196.6h4v4h-4zM117.3 196.9h4v4h-4zM118.1 197.2h4v4h-4zM118.9 197.5h4v4h-4zM119.7 197.8h4v4h-4zM120.5 198.1h4v4h-4zM121.3 198.5h4v4h-4zM122.1 198.8h4v4h-4zM122.9 199.1h4v4h-4zM123.7 199.4h4v4h-4zM124.5 199.7h4v4h-4zM125.3 200.1h4v4h-4zM126.1 200.4h4v4h-4zM126.9 200.7h4v4h-4zM127.7 201.1h4v4h-4zM128.5 201.4h4v4h-4zM129.3 201.7h4v4h-4zM130.1 202.1h4v4h-4zM130.9 202.4h4v4h-4zM131.7 202.8h4v4h-4zM132.5 203.1h4v4h-4zM133.3 203.4h4v4h-4zM134.1 203.8h4v4h-4zM134.9 204.2h4v4h-4zM135.7 204.5h4v4h-4zM136.5 204.9h4v4h-4zM137.3 205.2h4v4h-4zM138.1 205.6h4v4h-4zM138.9 206.0h4v4h-4zM139.7 206.3h4v4h-4zM140.5 206.7h4v4h-4zM141.3 207.1h4v4h-4zM142.1 207.5h4v4h-4zM142.9 207.9h4v4h-4zM143.7 208.2h4v4h-4zM144.5 208.6h4v4h-4zM145.3 209.0h4v4h-4zM146.1 209.4h4v4h-4zM146.9 209.8h4v4h-4zM147.7 210.2h4v4h-4zM148.5 210.6h4v4h-4zM149.3 211.0h4v4h-4zM150.1 211.5h4v4h-4zM150.9 211.9h4v4h-4zM151.7 212.3h4v4h-4zM152.5 212.7h4v4h-4zM153.3 213.2h4v4h-4zM154.1 213.6h4v4h-4zM154.9 214.0h4v4h-4zM155.7 214.5h4v4h-4zM156.5 214.9h4v4h-4zM157.3 215.4h4v4h-4zM158.1 215.8h4v4h-4zM158.9 216.3h4v4h-4zM159.7 216.7h4v4h-4zM160.5 217.2h4v4h-4zM161.3 217.7h4v4h-4zM162.1 218.2h4v4h-4zM162.9 218.6h4v4h-4zM163.7 219.1h4v4h-4zM164.5 219.6h4v4h-4zM165.3 220.1h4v4h-4zM166.1 220.6h4v4h-4zM166.9 221.1h4v4h-4zM167.7 221.6h4v4h-4zM168.5 222.2h4v4h-4zM169.3 222.7h4v4h-4zM170.1 223.2h4v4h-4zM170.9 223.8h4v4h-4zM171.7 224.3h4v4h-4zM172.5 224.8h4v4h-4zM173.3 225.4h4v4h-4zM174.1 226.0h4v4h-4zM174.9 226.5h4v4h-4zM175.7 227.1h4v4h-4zM176.5 227.7h4v4h-4zM177.3 228.3h4v4h-4zM178.1 228.9h4v4h-4zM178.9 229.5h4v4h-4zM179.7 230.1h4v4h-4zM180.5 230.7h4v4h-4zM181.3 231.4h4v4h-4zM182.1 232.0h4v4h-4zM182.9 232.7h4v4h-4zM183.7 233.3h4v4h-4zM184.5 234.0h4v4h-4zM185.3 234.7h4v4h-4zM186.1 235.3h4v4h-4zM186.9 236.0h4v4h-4zM187.7 236.7h4v4h-4zM188.3 237.3h4v4h-4zM188.9 237.8h4v4h-4zM189.5 238.4h4v4h-4zM190.1 238.9h4v4h-4zM190.7 239.5h4v4h-4zM191.3 240.1h4v4h-4zM191.9 240.6h4v4h-4zM192.5 241.2h4v4h-4zM193.1 241.8h4v4h-4zM193.7 242.4h4v4h-4zM194.3 243.0h4v4h-4zM194.9 243.6h4v4h-4zM195.5 244.2h4v4h-4zM196.1 244.9h4v4h-4zM196.7 245.5h4v4h-4zM197.3 246.2h4v4h-4zM197.9 246.8h4v4h-4zM198.5 247.5h4v4h-4zM199.1 248.2h4v4h-4zM199.7 248.8h4v4h-4zM200.3 249.5h4v4h-4zM200.9 250.3h4v4h-4zM201.5 251.0h4v4h-4zM202.1 251.7h4v4h-4zM202.7 252.4h4v4h-4zM203.3 253.2h4v4h-4zM203.9 253.9h4v4h-4zM204.5 254.7h4v4h-4zM205.1 255.5h4v4h-4zM205.7 256.3h4v4h-4zM206.3 257.1h4v4h-4zM206.9 258.0h4v4h-4zM207.5 258.8h4v4h-4zM208.1 259.7h4v4h-4zM208.7 260.5h4v4h-4zM209.3 261.4h4v4h-4zM209.9 262.4h4v4h-4zM210.5 263.3h4v4h-4zM211.1 264.2h4v4h-4zM211.7 265.2h4v4h-4zM212.3 266.2h4v4h-4zM212.9 267.2h4v4h-4zM213.5 268.2h4v4h-4zM213.9 268.9h4v4h-4zM214.3 269.6h4v4h-4zM214.7 270.4h4v4h-4zM215.1 271.1h4v4h-4zM215.5 271.8h4v4h-4zM215.9 272.6h4v4h-4zM216.3 273.4h4v4h-4zM216.7 274.1h4v4h-4zM217.1 274.9h4v4h-4zM217.5 275.7h4v4h-4zM217.9 276.6h4v4h-4zM218.3 277.4h4v4h-4zM218.7 278.2h4v4h-4zM219.1 279.1h4v4h-4zM219.5 280.0h4v4h-4zM219.9 280.9h4v4h-4zM220.3 281.8h4v4h-4zM220.7 282.7h4v4h-4zM221.1 283.7h4v4h-4zM221.5 284.7h4v4h-4zM221.9 285.7h4v4h-4zM222.3 286.7h4v4h-4zM222.7 287.7h4v4h-4zM223.1 288.8h4v4h-4zM223.5 289.9h4v4h-4zM223.9 291.0h4v4h-4zM224.3 292.1h4v4h-4zM224.7 293.3h4v4h-4zM225.1 294.5h4v4h-4zM225.5 295.7h4v4h-4zM225.9 297.0h4v4h-4zM226.3 298.3h4v4h-4zM226.7 299.6h4v4h-4zM227.1 301.0h4v4h-4zM227.5 302.4h4v4h-4zM227.9 303.9h4v4h-4zM228.3 305.4h4v4h-4zM228.7 306.9h4v4h-4zM228.9 307.7h4v4h-4zM229.1 308.5h4v4h-4zM229.3 309.3h4v4h-4zM229.5 310.2h4v4h-4zM229.7 311.0h4v4h-4zM229.9 311.9h4v4h-4zM230.1 312.8h4v4h-4zM230.3 313.7h4v4h-4zM230.5 314.6h4v4h-4zM230.7 315.5h4v4h-4zM230.9 316.5h4v4h-4zM231.1 317.5h4v4h-4zM231.3 318.5h4v4h-4zM231.5 319.5h4v4h-4zM231.7 320.5h4v4h-4zM231.9 321.6h4v4h-4zM232.1 322.7h4v4h-4zM232.3 323.8h4v4h-4zM232.5 325.0h4v4h-4zM232.7 326.1h4v4h-4zM232.9 327.3h4v4h-4zM233.1 328.6h4v4h-4zM233.3 329.8h4v4h-4zM233.5 331.1h4v4h-4zM233.7 332.5h4v4h-4zM233.9 333.9h4v4h-4zM234.1 335.3h4v4h-4zM234.3 336.7h4v4h-4zM234.5 338.2h4v4h-4zM234.7 339.8h4v4h-4zM234.9 341.4h4v4h-4zM235.1 343.1h4v4h-4zM235.3 344.8h4v4h-4zM235.5 346.6h4v4h-4zM235.7 348.5h4v4h-4zM235.9 350.4h4v4h-4zM236.1 352.5h4v4h-4zM236.3 354.6h4v4h-4zM236.5 356.8h4v4h-4zM236.7 359.2h4v4h-4zM236.9 361.6h4v4h-4zM237.1 364.2h4v4h-4zM237.3 366.9h4v4h-4zM237.5 369.8h4v4h-4zM237.7 372.9h4v4h-4zM237.9 376.3h4v4h-4zM238.1 379.8h4v4h-4zM238.3 383.7h4v4h-4zM238.5 387.9h4v4h-4zM238.7 392.5h4v4h-4zM238.9 397.7h4v4h-4zM239.1 403.4h4v4h-4zM242.0 407.0h4v4h-4zM242.1 405.9h4v4h-4zM242.3 399.9h4v4h-4zM242.5 394.5h4v4h-4zM242.7 389.7h4v4h-4zM242.9 385.3h4v4h-4zM243.1 381.3h4v4h-4zM243.3 377.7h4v4h-4zM243.5 374.2h4v4h-4zM243.7 371.1h4v4h-4zM243.9 368.1h4v4h-4zM244.1 365.3h4v4h-4zM244.3 362.6h4v4h-4zM244.5 360.1h4v4h-4zM244.7 357.7h4v4h-4zM244.9 355.5h4v4h-4zM245.1 353.3h4v4h-4zM245.3 351.2h4v4h-4zM245.5 349.3h4v4h-4zM245.7 347.4h4v4h-4zM245.9 345.5h4v4h-4zM246.1 343.8h4v4h-4zM246.3 342.1h4v4h-4zM246.5 340.4h4v4h-4zM246.7 338.9h4v4h-4zM246.9 337.3h4v4h-4zM247.1 335.9h4v4h-4zM247.3 334.4h4v4h-4zM247.5 333.0h4v4h-4zM247.7 331.7h4v4h-4zM247.9 330.4h4v4h-4zM248.1 329.1h4v4h-4zM248.3 327.8h4v4h-4zM248.5 326.6h4v4h-4zM248.7 325.4h4v4h-4zM248.9 324.3h4v4h-4zM249.1 323.1h4v4h-4zM249.3 322.0h4v4h-4zM249.5 321.0h4v4h-4zM249.7 319.9h4v4h-4zM249.9 318.9h4v4h-4zM250.1 317.9h4v4h-4zM250.3 316.9h4v4h-4zM250.5 315.9h4v4h-4zM250.7 315.0h4v4h-4zM250.9 314.1h4v4h-4zM251.1 313.1h4v4h-4zM251.3 312.3h4v4h-4zM251.5 311.4h4v4h-4zM251.7 310.5h4v4h-4zM251.9 309.7h4v4h-4zM252.1 308.8h4v4h-4zM252.3 308.0h4v4h-4zM252.5 307.2h4v4h-4zM252.7 306.4h4v4h-4zM252.9 305.7h4v4h-4zM253.3 304.2h4v4h-4zM253.7 302.7h4v4h-4zM254.1 301.3h4v4h-4zM254.5 299.9h4v4h-4zM254.9 298.5h4v4h-4zM255.3 297.2h4v4h-4zM255.7 296.0h4v4h-4zM256.1 294.7h4v4h-4zM256.5 293.5h4v4h-4zM256.9 292.4h4v4h-4zM257.3 291.2h4v4h-4zM257.7 290.1h4v4h-4zM258.1 289.0h4v4h-4zM258.5 287.9h4v4h-4zM258.9 286.9h4v4h-4zM259.3 285.9h4v4h-4zM259.7 284.9h4v4h-4zM260.1 283.9h4v4h-4zM260.5 282.9h4v4h-4zM260.9 282.0h4v4h-4zM261.3 281.1h4v4h-4zM261.7 280.2h4v4h-4zM262.1 279.3h4v4h-4zM262.5 278.4h4v4h-4zM262.9 277.6h4v4h-4zM263.3 276.7h4v4h-4zM263.7 275.9h4v4h-4zM264.1 275.1h4v4h-4zM264.5 274.3h4v4h-4zM264.9 273.5h4v4h-4zM265.3 272.7h4v4h-4zM265.7 272.0h4v4h-4zM266.1 271.2h4v4h-4zM266.5 270.5h4v4h-4zM266.9 269.8h4v4h-4zM267.3 269.1h4v4h-4zM267.7 268.4h4v4h-4zM268.3 267.3h4v4h-4zM268.9 266.3h4v4h-4zM269.5 265.3h4v4h-4zM270.1 264.4h4v4h-4zM270.7 263.4h4v4h-4zM271.3 262.5h4v4h-4zM271.9 261.6h4v4h-4zM272.5 260.7h4v4h-4zM273.1 259.8h4v4h-4zM273.7 258.9h4v4h-4zM274.3 258.1h4v4h-4zM274.9 257.2h4v4h-4zM275.5 256.4h4v4h-4zM276.1 255.6h4v4h-4zM276.7 254.8h4v4h-4zM277.3 254.1h4v4h-4zM277.9 253.3h4v4h-4zM278.5 252.5h4v4h-4zM279.1 251.8h4v4h-4zM279.7 251.1h4v4h-4zM280.3 250.3h4v4h-4zM280.9 249.6h4v4h-4zM281.5 248.9h4v4h-4zM282.1 248.3h4v4h-4zM282.7 247.6h4v4h-4zM283.3 246.9h4v4h-4zM283.9 246.3h4v4h-4zM284.5 245.6h4v4h-4zM285.1 245.0h4v4h-4zM285.7 244.3h4v4h-4zM286.3 243.7h4v4h-4zM286.9 243.1h4v4h-4zM287.5 242.5h4v4h-4zM288.1 241.9h4v4h-4zM288.7 241.3h4v4h-4zM289.3 240.7h4v4h-4zM289.9 240.1h4v4h-4zM290.5 239.6h4v4h-4zM291.1 239.0h4v4h-4zM291.7 238.4h4v4h-4zM292.3 237.9h4v4h-4zM292.9 237.3h4v4h-4zM293.5 236.8h4v4h-4zM294.1 236.3h4v4h-4zM294.9 235.6h4v4h-4zM295.7 234.9h4v4h-4zM296.5 234.2h4v4h-4zM297.3 233.5h4v4h-4zM298.1 232.9h4v4h-4zM298.9 232.2h4v4h-4zM299.7 231.6h4v4h-4zM300.5 231.0h4v4h-4zM301.3 230.3h4v4h-4zM302.1 229.7h4v4h-4zM302.9 229.1h4v4h-4zM303.7 228.5h4v4h-4zM304.5 227.9h4v4h-4zM305.3 227.3h4v4h-4zM306.1 226.7h4v4h-4zM306.9 226.2h4v4h-4zM307.7 225.6h4v4h-4zM308.5 225.0h4v4h-4zM309.3 224.5h4v4h-4zM310.1 223.9h4v4h-4zM310.9 223.4h4v4h-4zM311.7 222.9h4v4h-4zM312.5 222.3h4v4h-4zM313.3 221.8h4v4h-4zM314.1 221.3h4v4h-4zM314.9 220.8h4v4h-4zM315.7 220.3h4v4h-4zM316.5 219.8h4v4h-4zM317.3 219.3h4v4h-4zM318.1 218.8h4v4h-4zM318.9 218.3h4v4h-4zM319.7 217.8h4v4h-4zM320.5 217.4h4v4h-4zM321.3 216.9h4v4h-4zM322.1 216.4h4v4h-4zM322.9 216.0h4v4h-4zM323.7 215.5h4v4h-4zM324.5 215.1h4v4h-4zM325.3 214.6h4v4h-4zM326.1 214.2h4v4h-4zM326.9 213.7h4v4h-4zM327.7 213.3h4v4h-4zM328.5 212.9h4v4h-4zM329.3 212.5h4v4h-4zM330.1 212.0h4v4h-4zM330.9 211.6h4v4h-4zM331.7 211.2h4v4h-4zM332.5 210.8h4v4h-4zM333.3 210.4h4v4h-4zM334.1 210.0h4v4h-4zM334.9 209.6h4v4h-4zM335.7 209.2h4v4h-4zM336.5 208.8h4v4h-4zM337.3 208.4h4v4h-4zM338.1 208.0h4v4h-4zM338.9 207.6h4v4h-4zM339.7 207.2h4v4h-4zM340.5 206.8h4v4h-4zM341.3 206.5h4v4h-4zM342.1 206.1h4v4h-4zM342.9 205.7h4v4h-4zM343.7 205.4h4v4h-4zM344.5 205.0h4v4h-4zM345.3 204.6h4v4h-4zM346.1 204.3h4v4h-4zM346.9 203.9h4v4h-4zM347.7 203.6h4v4h-4zM348.5 203.2h4v4h-4zM349.3 202.9h4v4h-4zM350.1 202.5h4v4h-4zM350.9 202.2h4v4h-4zM351.7 201.8h4v4h-4zM352.5 201.5h4v4h-4zM353.3 201.2h4v4h-4zM354.1 200.8h4v4h-4zM354.9 200.5h4v4h-4zM355.7 200.2h4v4h-4zM356.5 199.9h4v4h-4zM357.3 199.5h4v4h-4zM358.1 199.2h4v4h-4zM358.9 198.9h4v4h-4zM359.7 198.6h4v4h-4zM360.5 198.3h4v4h-4zM361.3 197.9h4v4h-4zM362.1 197.6h4v4h-4zM362.9 197.3h4v4h-4zM363.7 197.0h4v4h-4zM364.5 196.7h4v4h-4zM365.3 196.4h4v4h-4zM366.1 196.1h4v4h-4zM366.9 195.8h4v4h-4zM367.7 195.5h4v4h-4zM368.5 195.2h4v4h-4zM369.3 194.9h4v4h-4zM370.1 194.6h4v4h-4zM370.9 194.3h4v4h-4zM371.7 194.0h4v4h-4zM372.5 193.8h4v4h-4zM373.3 193.5h4v4h-4zM374.1 193.2h4v4h-4zM374.9 192.9h4v4h-4zM375.7 192.6h4v4h-4zM376.5 192.4h4v4h-4zM377.3 192.1h4v4h-4zM378.1 191.8h4v4h-4zM378.9 191.5h4v4h-4zM379.7 191.3h4v4h-4zM380.5 191.0h4v4h-4zM381.3 190.7h4v4h-4zM382.1 190.5h4v4h-4zM382.9 190.2h4v4h-4zM383.7 189.9h4v4h-4zM384.5 189.7h4v4h-4zM385.3 189.4h4v4h-4zM386.1 189.1h4v4h-4zM386.9 188.9h4v4h-4zM387.7 188.6h4v4h-4zM388.5 188.4h4v4h-4zM389.3 188.1h4v4h-4zM390.1 187.9h4v4h-4zM390.9 187.6h4v4h-4zM391.7 187.4h4v4h-4zM392.5 187.1h4v4h-4zM393.3 186.9h4v4h-4zM394.1 186.6h4v4h-4zM394.9 186.4h4v4h-4zM395.7 186.1h4v4h-4zM396.5 185.9h4v4h-4zM397.3 185.7h4v4h-4zM398.1 185.4h4v4h-4zM398.9 185.2h4v4h-4zM399.7 184.9h4v4h-4zM400.5 184.7h4v4h-4zM401.3 184.5h4v4h-4zM402.1 184.2h4v4h-4zM402.9 184.0h4v4h-4zM403.7 183.8h4v4h-4zM404.5 183.5h4v4h-4zM405.3 183.3h4v4h-4zM406.1 183.1h4v4h-4zM406.9 182.9h4v4h-4zM407.7 182.6h4v4h-4zM408.5 182.4h4v4h-4zM409.3 182.2h4v4h-4zM410.1 182.0h4v4h-4zM410.9 181.7h4v4h-4zM411.7 181.5h4v4h-4zM412.5 181.3h4v4h-4zM413.3 181.1h4v4h-4zM414.1 180.9h4v4h-4zM414.9 180.6h4v4h-4zM415.7 180.4h4v4h-4zM416.5 180.2h4v4h-4zM417.3 180.0h4v4h-4zM418.1 179.8h4v4h-4zM418.9 179.6h4v4h-4zM419.7 179.4h4v4h-4zM420.5 179.2h4v4h-4zM421.3 179.0h4v4h-4zM422.1 178.7h4v4h-4zM422.9 178.5h4v4h-4zM423.7 178.3h4v4h-4zM424.5 178.1h4v4h-4zM425.3 177.9h4v4h-4zM426.1 177.7h4v4h-4zM426.9 177.5h4v4h-4zM427.7 177.3h4v4h-4zM428.5 177.1h4v4h-4zM429.3 176.9h4v4h-4zM430.1 176.7h4v4h-4zM430.9 176.5h4v4h-4zM431.7 176.3h4v4h-4zM432.5 176.1h4v4h-4z"/>
<path fill="#ffa500" d="M66.2 181.4h4v4h-4zM67.0 181.7h4v4h-4zM67.7 182.0h4v4h-4zM68.5 182.3h4v4h-4zM69.2 182.6h4v4h-4zM70.0 182.9h4v4h-4zM70.7 183.2h4v4h-4zM71.5 183.5h4v4h-4zM72.2 183.8h4v4h-4zM73.0 184.1h4v4h-4zM73.7 184.4h4v4h-4zM74.5 184.7h4v4h-4zM75.2 185.0h4v4h-4zM76.0 185.3h4v4h-4zM76.7 185.6h4v4h-4zM77.5 185.9h4v4h-4zM78.2 186.2h4v4h-4zM79.0 186.5h4v4h-4zM79.7 186.9h4v4h-4zM80.5 187.2h4v4h-4zM81.2 187.5h4v4h-4zM82.0 187.8h4v4h-4zM82.7 188.2h4v4h-4zM83.5 188.5h4v4h-4zM84.2 188.8h4v4h-4zM85.0 189.2h4v4h-4zM85.7 189.5h4v4h-4zM86.5 189.8h4v4h-4zM87.2 190.2h4v4h-4zM88.0 190.5h4v4h-4zM88.7 190.9h4v4h-4zM89.5 191.2h4v4h-4zM90.2 191.6h4v4h-4zM91.0 192.0h4v4h-4zM91.7 192.3h4v4h-4zM92.5 192.7h4v4h-4zM93.2 193.0h4v4h-4zM94.0 193.4h4v4h-4zM94.7 193.8h4v4h-4zM95.5 194.2h4v4h-4zM96.2 194.5h4v4h-4zM97.0 194.9h4v4h-4zM97.7 195.3h4v4h-4zM98.5 195.7h4v4h-4zM99.2 196.1h4v4h-4zM100.0 196.5h4v4h-4zM100.7 196.9h4v4h-4zM101.5 197.3h4v4h-4zM102.2 197.7h4v4h-4zM103.0 198.1h4v4h-4zM103.7 198.5h4v4h-4zM104.5 198.9h4v4h-4zM105.2 199.3h4v4h-4zM106.0 199.7h4v4h-4zM106.7 200.2h4v4h-4zM107.5 200.6h4v4h-4zM108.2 201.0h4v4h-4zM109.0 201.5h4v4h-4zM109.7 201.9h4v4h-4zM110.5 202.3h4v4h-4zM111.2 202.8h4v4h-4zM112.0 203.2h4v4h-4zM112.7 203.7h4v4h-4zM113.5 204.2h4v4h-4zM114.2 204.6h4v4h-4zM115.0 205.1h4v4h-4zM115.7 205.6h4v4h-4zM116.5 206.1h4v4h-4zM117.2 206.6h4v4h-4zM118.0 207.0h4v4h-4zM118.7 207.5h4v4h-4zM119.5 208.0h4v4h-4zM120.2 208.6h4v4h-4zM121.0 209.1h4v4h-4zM121.7 209.6h4v4h-4zM122.5 210.1h4v4h-4zM123.2 210.6h4v4h-4zM124.0 211.2h4v4h-4zM124.7 211.7h4v4h-4zM125.5 212.3h4v4h-4zM126.2 212.8h4v4h-4zM127.0 213.4h4v4h-4zM127.7 214.0h4v4h-4zM128.5 214.5h4v4h-4zM129.2 215.1h4v4h-4zM130.0 215.7h4v4h-4zM130.7 216.3h4v4h-4zM131.5 216.9h4v4h-4zM132.2 217.5h4v4h-4zM133.0 218.1h4v4h-4zM133.7 218.8h4v4h-4zM134.5 219.4h4v4h-4zM135.2 220.1h4v4h-4zM136.0 220.7h4v4h-4zM136.7 221.4h4v4h-4zM137.5 222.1h4v4h-4zM138.2 222.7h4v4h-4zM139.0 223.4h4v4h-4zM139.7 224.1h4v4h-4zM140.5 224.9h4v4h-4zM141.2 225.6h4v4h-4zM142.0 226.3h4v4h-4zM142.7 227.1h4v4h-4zM143.5 227.8h4v4h-4zM144.2 228.6h4v4h-4zM145.0 229.4h4v4h-4zM145.7 230.2h4v4h-4zM146.5 231.0h4v4h-4zM147.2 231.9h4v4h-4zM148.0 232.7h4v4h-4zM148.7 233.6h4v4h-4zM149.5 234.4h4v4h-4zM150.2 235.3h4v4h-4zM151.0 236.2h4v4h-4zM151.7 237.2h4v4h-4zM152.2 237.8h4v4h-4zM152.7 238.4h4v4h-4zM153.2 239.1h4v4h-4zM153.7 239.7h4v4h-4zM154.2 240.4h4v4h-4zM154.7 241.1h4v4h-4zM155.2 241.8h4v4h-4zM155.7 242.5h4v4h-4zM156.2 243.2h4v4h-4zM156.7 243.9h4v4h-4zM157.2 244.6h4v4h-4zM157.7 245.3h4v4h-4zM158.2 246.1h4v4h-4zM158.7 246.8h4v4h-4zM159.2 247.6h4v4h-4zM159.7 248.4h4v4h-4zM160.2 249.2h4v4h-4zM160.7 250.0h4v4h-4zM161.2 250.8h4v4h-4zM161.7 251.7h4v4h-4zM162.2 252.6h4v4h-4zM162.7 253.4h4v4h-4zM163.2 254.3h4v4h-4zM163.7 255.2h4v4h-4zM164.2 256.2h4v4h-4zM164.7 257.1h4v4h-4zM165.2 258.1h4v4h-4zM165.7 259.0h4v4h-4zM166.2 260.0h4v4h-4zM166.7 261.1h4v4h-4zM167.2 262.1h4v4h-4zM167.7 263.2h4v4h-4zM168.2 264.3h4v4h-4zM168.7 265.4h4v4h-4zM169.2 266.6h4v4h-4zM169.7 267.8h4v4h-4zM170.2 269.0h4v4h-4zM170.7 270.2h4v4h-4zM171.2 271.5h4v4h-4zM171.7 272.8h4v4h-4zM172.2 274.2h4v4h-4zM172.7 275.5h4v4h-4zM173.2 277.0h4v4h-4zM173.7 278.5h4v4h-4zM174.2 280.0h4v4h-4zM174.5 280.8h4v4h-4zM174.7 281.6h4v4h-4zM175.0 282.4h4v4h-4zM175.2 283.2h4v4h-4zM175.5 284.0h4v4h-4zM175.7 284.9h4v4h-4zM176.0 285.8h4v4h-4zM176.2 286.6h4v4h-4zM176.5 287.5h4v4h-4zM176.7 288.5h4v4h-4zM177.0 289.4h4v4h-4zM177.2 290.4h4v4h-4zM177.5 291.3h4v4h-4zM177.7 292.3h4v4h-4zM178.0 293.3h4v4h-4zM178.2 294.4h4v4h-4zM178.5 295.5h4v4h-4zM178.7 296.5h4v4h-4zM179.0 297.7h4v4h-4zM179.2 298.8h4v4h-4zM179.5 300.0h4v4h-4zM179.7 301.2h4v4h-4zM180.0 302.4h4v4h-4zM180.2 303.7h4v4h-4zM180.5 305.0h4v4h-4zM180.7 306.3h4v4h-4zM181.0 307.7h4v4h-4zM181.2 309.1h4v4h-4zM181.5 310.6h4v4h-4zM181.7 312.1h4v4h-4zM182.0 313.6h4v4h-4zM182.2 315.2h4v4h-4zM182.5 316.9h4v4h-4zM182.7 318.6h4v4h-4zM183.0 320.4h4v4h-4zM183.2 322.3h4v4h-4zM183.5 324.2h4v4h-4zM183.7 326.3h4v4h-4zM184.0 328.4h4v4h-4zM184.2 330.6h4v4h-4zM184.5 332.9h4v4h-4zM184.7 335.4h4v4h-4zM185.0 338.0h4v4h-4zM185.2 340.7h4v4h-4zM185.5 343.6h4v4h-4zM185.7 346.7h4v4h-4zM186.0 350.0h4v4h-4zM186.2 353.6h4v4h-4zM186.5 357.4h4v4h-4zM186.7 361.6h4v4h-4zM187.0 366.2h4v4h-4zM187.2 371.3h4v4h-4zM187.5 377.0h4v4h-4zM187.7 383.5h4v4h-4zM188.0 391.1h4v4h-4zM188.2 400.1h4v4h-4zM190.4 407.0h4v4h-4zM190.5 405.3h4v4h-4zM190.7 395.4h4v4h-4zM191.0 387.1h4v4h-4zM191.2 380.2h4v4h-4zM191.5 374.1h4v4h-4zM191.7 368.7h4v4h-4zM192.0 363.8h4v4h-4zM192.2 359.5h4v4h-4zM192.5 355.4h4v4h-4zM192.7 351.7h4v4h-4zM193.0 348.3h4v4h-4zM193.2 345.1h4v4h-4zM193.5 342.1h4v4h-4zM193.7 339.3h4v4h-4zM194.0 336.7h4v4h-4zM194.2 334.1h4v4h-4zM194.5 331.8h4v4h-4zM194.7 329.5h4v4h-4zM195.0 327.3h4v4h-4zM195.2 325.2h4v4h-4zM195.5 323.3h4v4h-4zM195.7 321.4h4v4h-4zM196.0 319.5h4v4h-4zM196.2 317.8h4v4h-4zM196.5 316.1h4v4h-4zM196.7 314.4h4v4h-4zM197.0 312.8h4v4h-4zM197.2 311.3h4v4h-4zM197.5 309.8h4v4h-4zM197.7 308.4h4v4h-4zM198.0 307.0h4v4h-4zM198.2 305.6h4v4h-4zM198.5 304.3h4v4h-4zM198.7 303.0h4v4h-4zM199.0 301.8h4v4h-4zM199.2 300.6h4v4h-4zM199.5 299.4h4v4h-4zM199.7 298.2h4v4h-4zM200.0 297.1h4v4h-4zM200.2 296.0h4v4h-4zM200.5 294.9h4v4h-4zM200.7 293.9h4v4h-4zM201.0 292.8h4v4h-4zM201.2 291.8h4v4h-4zM201.5 290.8h4v4h-4zM201.7 289.9h4v4h-4zM202.0 288.9h4v4h-4zM202.2 288.0h4v4h-4zM202.5 287.1h4v4h-4zM202.7 286.2h4v4h-4zM203.0 285.3h4v4h-4zM203.2 284.5h4v4h-4zM203.5 283.6h4v4h-4zM203.7 282.8h4v4h-4zM204.0 282.0h4v4h-4zM204.2 281.2h4v4h-4zM204.5 280.4h4v4h-4zM204.7 279.6h4v4h-4zM205.0 278.8h4v4h-4zM205.5 277.3h4v4h-4zM206.0 275.9h4v4h-4zM206.5 274.5h4v4h-4zM207.0 273.1h4v4h-4zM207.5 271.8h4v4h-4zM208.0 270.5h4v4h-4zM208.5 269.3h4v4h-4zM209.0 268.1h4v4h-4zM209.5 266.9h4v4h-4zM210.0 265.7h4v4h-4zM210.5 264.6h4v4h-4zM211.0 263.5h4v4h-4zM211.5 262.4h4v4h-4zM212.0 261.3h4v4h-4zM212.5 260.3h4v4h-4zM213.0 259.3h4v4h-4zM213.5 258.3h4v4h-4zM214.0 257.3h4v4h-4zM214.5 256.4h4v4h-4zM215.0 255.5h4v4h-4zM215.5 254.5h4v4h-4zM216.0 253.6h4v4h-4zM216.5 252.8h4v4h-4zM217.0 251.9h4v4h-4zM217.5 251.1h4v4h-4zM218.0 250.2h4v4h-4zM218.5 249.4h4v4h-4zM219.0 248.6h4v4h-4zM219.5 247.8h4v4h-4zM220.0 247.0h4v4h-4zM220.5 246.3h4v4h-4zM221.0 245.5h4v4h-4zM221.5 244.8h4v4h-4zM222.0 244.1h4v4h-4zM222.5 243.3h4v4h-4zM223.0 242.6h4v4h-4zM223.5 241.9h4v4h-4zM224.0 241.2h4v4h-4zM224.5 240.6h4v4h-4zM225.0 239.9h4v4h-4zM225.5 239.2h4v4h-4zM226.0 238.6h4v4h-4zM226.5 238.0h4v4h-4zM227.0 237.3h4v4h-4zM227.7 236.4h4v4h-4zM228.5 235.5h4v4h-4zM229.2 234.6h4v4h-4zM230.0 233.7h4v4h-4zM230.7 232.8h4v4h-4zM231.5 232.0h4v4h-4zM232.2 231.2h4v4h-4zM233.0 230.3h4v4h-4zM233.7 229.5h4v4h-4zM234.5 228.7h4v4h-4zM235.2 228.0h4v4h-4zM236.0 227.2h4v4h-4zM236.7 226.4h4v4h-4zM237.5 225.7h4v4h-4zM238.2 225.0h4v4h-4zM239.0 224.3h4v4h-4zM239.7 223.6h4v4h-4zM240.5 222.9h4v4h-4zM241.2 222.2h4v4h-4zM242.0 221.5h4v4h-4zM242.7 220.8h4v4h-4zM243.5 220.2h4v4h-4zM244.2 219.5h4v4h-4zM245.0 218.9h4v4h-4zM245.7 218.2h4v4h-4zM246.5 217.6h4v4h-4zM247.2 217.0h4v4h-4zM248.0 216.4h4v4h-4zM248.7 215.8h4v4h-4zM249.5 215.2h4v4h-4zM250.2 214.6h4v4h-4zM251.0 214.0h4v4h-4zM251.7 213.5h4v4h-4zM252.5 212.9h4v4h-4zM253.2 212.4h4v4h-4zM254.0 211.8h4v4h-4zM254.7 211.3h4v4h-4zM255.5 210.7h4v4h-4zM256.2 210.2h4v4h-4zM257.0 209.7h4v4h-4zM257.7 209.1h4v4h-4zM258.5 208.6h4v4h-4zM259.2 208.1h4v4h-4zM260.0 207.6h4v4h-4zM260.7 207.1h4v4h-4zM261.5 206.6h4v4h-4zM262.2 206.1h4v4h-4zM263.0 205.7h4v4h-4zM263.7 205.2h4v4h-4zM264.5 204.7h4v4h-4zM265.2 204.2h4v4h-4zM266.0 203.8h4v4h-4zM266.7 203.3h4v4h-4zM267.5 202.9h4v4h-4zM268.2 202.4h4v4h-4zM269.0 202.0h4v4h-4zM269.7 201.5h4v4h-4zM270.5 201.1h4v4h-4zM271.2 200.7h4v4h-4zM272.0 200.2h4v4h-4zM272.7 199.8h4v4h-4zM273.5 199.4h4v4h-4zM274.2 199.0h4v4h-4zM275.0 198.5h4v4h-4zM275.7 198.1h4v4h-4zM276.5 197.7h4v4h-4zM277.2 197.3h4v4h-4zM278.0 196.9h4v4h-4zM278.7 196.5h4v4h-4zM279.5 196.1h4v4h-4zM280.2 195.7h4v4h-4zM281.0 195.4h4v4h-4zM281.7 195.0h4v4h-4zM282.5 194.6h4v4h-4zM283.2 194.2h4v4h-4zM284.0 193.8h4v4h-4zM284.7 193.5h4v4h-4zM285.5 193.1h4v4h-4zM286.2 192.7h4v4h-4zM287.0 192.4h4v4h-4zM287.7 192.0h4v4h-4zM288.5 191.7h4v4h-4zM289.2 191.3h4v4h-4zM290.0 190.9h4v4h-4zM290.7 190.6h4v4h-4zM291.5 190.3h4v4h-4zM292.2 189.9h4v4h-4zM293.0 189.6h4v4h-4zM293.7 189.2h4v4h-4zM294.5 188.9h4v4h-4zM295.2 188.6h4v4h-4zM296.0 188.2h4v4h-4zM296.7 187.9h4v4h-4zM297.5 187.6h4v4h-4zM298.2 187.2h4v4h-4zM299.0 186.9h4v4h-4zM299.7 186.6h4v4h-4zM300.5 186.3h4v4h-4zM301.2 186.0h4v4h-4zM302.0 185.6h4v4h-4zM302.7 185.3h4v4h-4zM303.5 185.0h4v4h-4zM304.2 184.7h4v4h-4zM305.0 184.4h4v4h-4zM305.7 184.1h4v4h-4zM306.5 183.8h4v4h-4zM307.2 183.5h4v4h-4zM308.0 183.2h4v4h-4zM308.7 182.9h4v4h-4zM309.5 182.6h4v4h-4zM310.2 182.3h4v4h-4zM311.0 182.0h4v4h-4zM311.7 181.7h4v4h-4zM312.5 181.5h4v4h-4zM313.2 181.2h4v4h-4zM314.0 180.9h4v4h-4zM314.7 180.6h4v4h-4zM315.5 180.3h4v4h-4zM316.2 180.0h4v4h-4zM317.2 179.7h4v4h-4zM318.2 179.3h4v4h-4zM319.2 178.9h4v4h-4zM320.2 178.6h4v4h-4zM321.2 178.2h4v4h-4zM322.2 177.9h4v4h-4zM323.2 177.5h4v4h-4zM324.2 177.2h4v4h-4zM325.2 176.8h4v4h-4zM326.2 176.5h4v4h-4zM327.2 176.1h4v4h-4zM328.2 175.8h4v4h-4zM329.2 175.5h4v4h-4zM330.2 175.1h4v4h-4zM331.2 174.8h4v4h-4zM332.2 174.5h4v4h-4zM333.2 174.1h4v4h-4zM334.2 173.8h4v4h-4zM335.2 173.5h4v4h-4zM336.2 173.2h4v4h-4zM337.2 172.8h4v4h-4zM338.2 172.5h4v4h-4zM339.2 172.2h4v4h-4zM340.2 171.9h4v4h-4zM341.2 171.6h4v4h-4zM342.2 171.3h4v4h-4zM343.2 171.0h4v4h-4zM344.2 170.7h4v4h-4zM345.2 170.4h4v4h-4zM346.2 170.1h4v4h-4zM347.2 169.8h4v4h-4zM348.2 169.5h4v4h-4zM349.2 169.2h4v4h-4zM350.2 168.9h4v4h-4zM351.2 168.6h4v4h-4zM352.2 168.3h4v4h-4zM353.2 168.0h4v4h-4zM354.2 167.7h4v4h-4zM355.2 167.4h4v4h-4zM356.2 167.2h4v4h-4zM357.2 166.9h4v4h-4zM358.2 166.6h4v4h-4zM359.2 166.3h4v4h-4zM360.2 166.0h4v4h-4zM361.2 165.8h4v4h-4zM362.2 165.5h4v4h-4zM363.2 165.2h4v4h-4zM364.2 165.0h4v4h-4zM365.2 164.7h4v4h-4zM366.2 164.4h4v4h-4zM367.2 164.2h4v4h-4zM368.2 163.9h4v4h-4zM369.2 163.6h4v4h-4zM370.2 163.4h4v4h-4zM371.2 163.1h4v4h-4zM372.2 162.9h4v4h-4zM373.2 162.6h4v4h-4zM374.2 162.4h4v4h-4zM375.2 162.1h4v4h-4zM376.2 161.9h4v4h-4zM377.2 161.6h4v4h-4zM378.2 161.4h4v4h-4zM379.2 161.1h4v4h-4zM380.2 160.9h4v4h-4zM381.2 160.6h4v4h-4zM382.2 160.4h4v4h-4zM383.2 160.1h4v4h-4zM384.2 159.9h4v4h-4zM385.2 159.6h4v4h-4zM386.2 159.4h4v4h-4zM387.2 159.2h4v4h-4zM388.2 158.9h4v4h-4zM389.2 158.7h4v4h-4zM390.2 158.5h4v4h-4zM391.2 158.2h4v4h-4zM392.2 158.0h4v4h-4zM393.2 157.8h4v4h-4zM394.2 157.5h4v4h-4zM395.2 157.3h4v4h-4zM396.2 157.1h4v4h-4zM397.2 156.9h4v4h-4zM398.2 156.6h4v4h-4zM399.2 156.4h4v4h-4zM400.2 156.2h4v4h-4zM401.2 156.0h4v4h-4zM402.2 155.7h4v4h-4zM403.2 155.5h4v4h-4zM404.2 155.3h4v4h-4zM405.2 155.1h4v4h-4zM406.2 154.9h4v4h-4zM407.2 154.7h4v4h-4zM408.2 154.4h4v4h-4zM409.2 154.2h4v4h-4zM410.2 154.0h4v4h-4zM411.2 153.8h4v4h-4zM412.2 153.6h4v4h-4zM413.2 153.4h4v4h-4zM414.2 153.2h4v4h-4zM415.2 153.0h4v4h-4zM416.2 152.8h4v4h-4zM417.2 152.6h4v4h-4zM418.2 152.4h4v4h-4zM419.2 152.2h4v4h-4zM420.2 151.9h4v4h-4zM421.2 151.7h4v4h-4zM422.2 151.5h4v4h-4zM423.2 151.3h4v4h-4zM424.2 151.1h4v4h-4zM425.2 150.9h4v4h-4z"/>
<path fill="#bc8f8f" d="M66.0 182.4h4v4h-4zM66.7 183.0h4v4h-4zM67.4 183.7h4v4h-4zM68.1 184.3h4v4h-4zM68.8 185.0h4v4h-4zM69.5 185.6h4v4h-4zM70.2 186.3h4v4h-4zM70.9 187.0h4v4h-4zM71.6 187.7h4v4h-4zM72.3 188.4h4v4h-4zM73.0 189.1h4v4h-4zM73.7 189.8h4v4h-4zM74.4 190.5h4v4h-4zM75.1 191.3h4v4h-4zM75.8 192.1h4v4h-4zM76.5 192.8h4v4h-4zM77.2 193.6h4v4h-4zM77.9 194.4h4v4h-4zM78.6 195.2h4v4h-4zM79.3 196.1h4v4h-4zM80.0 196.9h4v4h-4zM80.7 197.8h4v4h-4zM81.4 198.6h4v4h-4zM82.1 199.5h4v4h-4zM82.8 200.4h4v4h-4zM83.5 201.4h4v4h-4zM84.2 202.3h4v4h-4zM84.9 203.3h4v4h-4zM85.6 204.2h4v4h-4zM86.3 205.3h4v4h-4zM87.0 206.3h4v4h-4zM87.7 207.3h4v4h-4zM88.4 208.4h4v4h-4zM89.1 209.5h4v4h-4zM89.8 210.6h4v4h-4zM90.5 211.8h4v4h-4zM91.2 213.0h4v4h-4zM91.9 214.2h4v4h-4zM92.6 215.4h4v4h-4zM93.3 216.7h4v4h-4zM94.0 218.0h4v4h-4zM94.7 219.4h4v4h-4zM95.4 220.8h4v4h-4zM96.1 222.2h4v4h-4zM96.4 222.9h4v4h-4zM96.8 223.7h4v4h-4zM97.1 224.4h4v4h-4zM97.5 225.2h4v4h-4zM97.8 226.0h4v4h-4zM98.2 226.8h4v4h-4zM98.5 227.6h4v4h-4zM98.9 228.4h4v4h-4zM99.2 229.2h4v4h-4zM99.6 230.1h4v4h-4zM99.9 231.0h4v4h-4zM100.3 231.8h4v4h-4zM100.6 232.7h4v4h-4zM101.0 233.7h4v4h-4zM101.3 234.6h4v4h-4zM101.7 235.6h4v4h-4zM102.0 236.5h4v4h-4zM102.4 237.5h4v4h-4zM102.7 238.6h4v4h-4zM103.1 239.6h4v4h-4zM103.4 240.7h4v4h-4zM103.8 241.8h4v4h-4zM104.1 242.9h4v4h-4zM104.5 244.0h4v4h-4zM104.8 245.2h4v4h-4zM105.2 246.4h4v4h-4zM105.5 247.6h4v4h-4zM105.9 248.9h4v4h-4zM106.2 250.2h4v4h-4zM106.6 251.5h4v4h-4zM106.9 252.9h4v4h-4zM107.3 254.3h4v4h-4zM107.6 255.8h4v4h-4zM108.0 257.3h4v4h-4zM108.3 258.9h4v4h-4zM108.7 260.5h4v4h-4zM109.0 262.1h4v4h-4zM109.4 263.9h4v4h-4zM109.7 265.7h4v4h-4zM110.1 267.5h4v4h-4zM110.4 269.5h4v4h-4zM110.8 271.5h4v4h-4zM111.1 273.6h4v4h-4zM111.5 275.9h4v4h-4zM111.8 278.2h4v4h-4zM112.2 280.6h4v4h-4zM112.5 283.2h4v4h-4zM112.9 286.0h4v4h-4zM113.2 288.9h4v4h-4zM113.6 292.0h4v4h-4zM113.9 295.3h4v4h-4zM114.3 298.9h4v4h-4zM114.6 302.7h4v4h-4zM115.0 306.9h4v4h-4zM115.3 311.5h4v4h-4zM115.7 316.7h4v4h-4zM116.0 322.4h4v4h-4zM116.4 328.9h4v4h-4zM116.7 336.5h4v4h-4zM117.1 345.6h4v4h-4zM117.4 356.8h4v4h-4zM117.8 371.6h4v4h-4zM118.1 393.3h4v4h-4zM119.2 407.0h4v4h-4zM119.5 379.7h4v4h-4zM119.9 362.6h4v4h-4zM120.2 350.1h4v4h-4zM120.6 340.2h4v4h-4zM120.9 332.0h4v4h-4zM121.3 325.1h4v4h-4zM121.6 319.0h4v4h-4zM122.0 313.7h4v4h-4zM122.3 308.8h4v4h-4zM122.7 304.5h4v4h-4zM123.0 300.5h4v4h-4zM123.4 296.8h4v4h-4zM123.7 293.4h4v4h-4zM124.1 290.2h4v4h-4zM124.4 287.2h4v4h-4zM124.8 284.4h4v4h-4zM125.1 281.7h4v4h-4zM125.5 279.2h4v4h-4zM125.8 276.8h4v4h-4zM126.2 274.6h4v4h-4zM126.5 272.4h4v4h-4zM126.9 270.3h4v4h-4zM127.2 268.4h4v4h-4zM127.6 266.5h4v4h-4zM127.9 264.6h4v4h-4zM128.3 262.9h4v4h-4zM128.6 261.2h4v4h-4zM129.0 259.5h4v4h-4zM129.3 258.0h4v4h-4zM129.7 256.4h4v4h-4zM130.0 254.9h4v4h-4zM130.4 253.5h4v4h-4zM130.7 252.1h4v4h-4zM131.1 250.8h4v4h-4zM131.4 249.4h4v4h-4zM131.8 248.2h4v4h-4zM132.1 246.9h4v4h-4zM132.5 245.7h4v4h-4zM132.8 244.5h4v4h-4zM133.2 243.4h4v4h-4zM133.5 242.2h4v4h-4zM133.9 241.1h4v4h-4zM134.2 240.1h4v4h-4zM134.6 239.0h4v4h-4zM134.9 238.0h4v4h-4zM135.3 237.0h4v4h-4zM135.6 236.0h4v4h-4zM136.0 235.0h4v4h-4zM136.3 234.1h4v4h-4zM136.7 233.1h4v4h-4zM137.0 232.2h4v4h-4zM137.4 231.3h4v4h-4zM137.7 230.5h4v4h-4zM138.1 229.6h4v4h-4zM138.4 228.8h4v4h-4zM138.8 227.9h4v4h-4zM139.1 227.1h4v4h-4zM139.5 226.3h4v4h-4zM139.8 225.5h4v4h-4zM140.2 224.7h4v4h-4zM140.5 224.0h4v4h-4zM140.9 223.2h4v4h-4zM141.2 222.5h4v4h-4zM141.6 221.8h4v4h-4zM142.3 220.3h4v4h-4zM143.0 219.0h4v4h-4zM143.7 217.6h4v4h-4zM144.4 216.3h4v4h-4zM145.1 215.1h4v4h-4zM145.8 213.8h4v4h-4zM146.5 212.6h4v4h-4zM147.2 211.4h4v4h-4zM147.9 210.3h4v4h-4zM148.6 209.2h4v4h-4zM149.3 208.1h4v4h-4zM150.0 207.0h4v4h-4zM150.7 206.0h4v4h-4zM151.4 205.0h4v4h-4zM152.1 204.0h4v4h-4zM152.8 203.0h4v4h-4zM153.5 202.0h4v4h-4zM154.2 201.1h4v4h-4zM154.9 200.2h4v4h-4zM155.6 199.3h4v4h-4zM156.3 198.4h4v4h-4zM157.0 197.5h4v4h-4zM157.7 196.7h4v4h-4zM158.4 195.8h4v4h-4zM159.1 195.0h4v4h-4zM159.8 194.2h4v4h-4zM160.5 193.4h4v4h-4zM161.2 192.6h4v4h-4zM161.9 191.8h4v4h-4zM162.6 191.1h4v4h-4zM163.3 190.3h4v4h-4zM164.0 189.6h4v4h-4zM164.7 188.9h4v4h-4zM165.4 188.2h4v4h-4zM166.1 187.5h4v4h-4zM166.8 186.8h4v4h-4zM167.5 186.1h4v4h-4zM168.2 185.4h4v4h-4zM168.9 184.8h4v4h-4zM169.6 184.1h4v4h-4zM170.3 183.5h4v4h-4zM171.0 182.8h4v4h-4zM171.7 182.2h4v4h-4zM172.4 181.6h4v4h-4zM173.1 181.0h4v4h-4zM173.8 180.4h4v4h-4zM174.5 179.8h4v4h-4zM175.2 179.2h4v4h-4zM175.9 178.6h4v4h-4zM176.6 178.1h4v4h-4zM177.3 177.5h4v4h-4zM178.0 176.9h4v4h-4zM178.7 176.4h4v4h-4zM179.4 175.8h4v4h-4zM180.1 175.3h4v4h-4zM180.8 174.8h4v4h-4zM181.5 174.2h4v4h-4zM182.2 173.7h4v4h-4zM182.9 173.2h4v4h-4zM183.6 172.7h4v4h-4zM184.3 172.2h4v4h-4zM185.0 171.7h4v4h-4zM185.7 171.2h4v4h-4zM186.4 170.7h4v4h-4zM187.1 170.2h4v4h-4zM187.8 169.7h4v4h-4zM188.5 169.3h4v4h-4zM189.2 168.8h4v4h-4zM189.9 168.3h4v4h-4zM190.6 167.9h4v4h-4zM191.3 167.4h4v4h-4zM192.0 167.0h4v4h-4zM192.7 166.5h4v4h-4zM193.4 166.1h4v4h-4zM194.1 165.6h4v4h-4zM194.8 165.2h4v4h-4zM195.5 164.8h4v4h-4zM196.2 164.4h4v4h-4zM196.9 163.9h4v4h-4zM197.6 163.5h4v4h-4zM198.3 163.1h4v4h-4zM199.0 162.7h4v4h-4zM199.7 162.3h4v4h-4zM200.4 161.9h4v4h-4zM201.1 161.5h4v4h-4zM201.8 161.1h4v4h-4zM202.5 160.7h4v4h-4zM203.2 160.3h4v4h-4zM204.2 159.7h4v4h-4zM205.3 159.1h4v4h-4zM206.3 158.6h4v4h-4zM207.4 158.0h4v4h-4zM208.4 157.5h4v4h-4zM209.5 156.9h4v4h-4zM210.5 156.4h4v4h-4zM211.6 155.9h4v4h-4zM212.6 155.3h4v4h-4zM213.7 154.8h4v4h-4zM214.7 154.3h4v4h-4zM215.8 153.8h4v4h-4zM216.8 153.3h4v4h-4zM217.9 152.8h4v4h-4zM218.9 152.3h4v4h-4zM220.0 151.8h4v4h-4zM221.0 151.3h4v4h-4zM222.1 150.8h4v4h-4zM223.1 150.4h4v4h-4zM224.2 149.9h4v4h-4zM225.2 149.4h4v4h-4zM226.3 149.0h4v4h-4zM227.3 148.5h4v4h-4zM228.4 148.1h4v4h-4zM229.4 147.6h4v4h-4zM230.5 147.2h4v4h-4zM231.5 146.8h4v4h-4zM232.6 146.3h4v4h-4zM233.6 145.9h4v4h-4zM234.7 145.5h4v4h-4zM235.7 145.1h4v4h-4zM236.8 144.6h4v4h-4zM237.8 144.2h4v4h-4zM238.9 143.8h4v4h-4zM239.9 143.4h4v4h-4zM241.0 143.0h4v4h-4zM242.0 142.6h4v4h-4zM243.1 142.2h4v4h-4zM244.1 141.8h4v4h-4zM245.2 141.4h4v4h-4zM246.2 141.0h4v4h-4zM247.3 140.7h4v4h-4zM248.3 140.3h4v4h-4zM249.4 139.9h4v4h-4zM250.4 139.5h4v4h-4zM251.5 139.2h4v4h-4zM252.5 138.8h4v4h-4zM253.6 138.4h4v4h-4zM254.6 138.1h4v4h-4zM255.7 137.7h4v4h-4zM256.7 137.4h4v4h-4zM257.8 137.0h4v4h-4zM258.8 136.7h4v4h-4zM259.9 136.3h4v4h-4zM260.9 136.0h4v4h-4zM262.0 135.6h4v4h-4zM263.0 135.3h4v4h-4zM264.1 135.0h4v4h-4zM265.1 134.6h4v4h-4zM266.2 134.3h4v4h-4zM267.2 134.0h4v4h-4zM268.3 133.6h4v4h-4zM269.3 133.3h4v4h-4zM270.4 133.0h4v4h-4zM271.4 132.7h4v4h-4zM272.5 132.4h4v4h-4zM273.5 132.0h4v4h-4zM274.6 131.7h4v4h-4zM275.6 131.4h4v4h-4zM276.7 131.1h4v4h-4zM277.7 130.8h4v4h-4zM278.8 130.5h4v4h-4zM279.8 130.2h4v4h-4zM280.9 129.9h4v4h-4zM281.9 129.6h4v4h-4zM283.0 129.3h4v4h-4zM284.0 129.0h4v4h-4zM285.1 128.7h4v4h-4zM286.1 128.4h4v4h-4zM287.2 128.1h4v4h-4zM288.2 127.9h4v4h-4zM289.3 127.6h4v4h-4zM290.3 127.3h4v4h-4zM291.4 127.0h4v4h-4zM292.4 126.7h4v4h-4zM293.5 126.5h4v4h-4zM294.5 126.2h4v4h-4zM295.6 125.9h4v4h-4zM296.6 125.6h4v4h-4zM297.7 125.4h4v4h-4zM298.7 125.1h4v4h-4zM299.8 124.8h4v4h-4zM300.8 124.6h4v4h-4zM301.9 124.3h4v4h-4zM302.9 124.0h4v4h-4zM304.0 123.8h4v4h-4zM305.0 123.5h4v4h-4zM306.1 123.3h4v4h-4zM307.1 123.0h4v4h-4zM308.2 122.7h4v4h-4zM309.2 122.5h4v4h-4zM310.3 122.2h4v4h-4zM311.3 122.0h4v4h-4zM312.4 121.7h4v4h-4zM313.4 121.5h4v4h-4zM314.5 121.2h4v4h-4zM315.5 121.0h4v4h-4zM316.6 120.8h4v4h-4zM317.6 120.5h4v4h-4zM318.7 120.3h4v4h-4zM319.7 120.0h4v4h-4zM320.8 119.8h4v4h-4zM321.8 119.6h4v4h-4zM322.9 119.3h4v4h-4zM323.9 119.1h4v4h-4zM325.0 118.9h4v4h-4zM326.0 118.6h4v4h-4zM327.1 118.4h4v4h-4zM328.1 118.2h4v4h-4zM329.2 117.9h4v4h-4zM330.2 117.7h4v4h-4zM331.3 117.5h4v4h-4zM332.3 117.3h4v4h-4zM333.4 117.0h4v4h-4zM334.4 116.8h4v4h-4zM335.5 116.6h4v4h-4zM336.5 116.4h4v4h-4zM337.6 116.2h4v4h-4zM338.6 115.9h4v4h-4zM339.7 115.7h4v4h-4zM340.7 115.5h4v4h-4zM341.8 115.3h4v4h-4zM342.8 115.1h4v4h-4zM343.9 114.9h4v4h-4zM344.9 114.7h4v4h-4zM346.0 114.5h4v4h-4zM347.0 114.2h4v4h-4zM348.1 114.0h4v4h-4zM349.1 113.8h4v4h-4zM350.2 113.6h4v4h-4zM351.2 113.4h4v4h-4zM352.3 113.2h4v4h-4zM353.3 113.0h4v4h-4zM354.4 112.8h4v4h-4zM355.4 112.6h4v4h-4zM356.5 112.4h4v4h-4zM357.5 112.2h4v4h-4zM358.6 112.0h4v4h-4zM359.6 111.8h4v4h-4zM360.7 111.6h4v4h-4zM361.7 111.4h4v4h-4zM362.8 111.2h4v4h-4zM363.8 111.0h4v4h-4zM364.9 110.8h4v4h-4zM365.9 110.7h4v4h-4zM367.0 110.5h4v4h-4zM368.0 110.3h4v4h-4zM369.1 110.1h4v4h-4zM370.1 109.9h4v4h-4zM371.2 109.7h4v4h-4zM372.2 109.5h4v4h-4zM373.3 109.3h4v4h-4zM374.3 109.2h4v4h-4zM375.4 109.0h4v4h-4zM376.4 108.8h4v4h-4zM377.5 108.6h4v4h-4zM378.5 108.4h4v4h-4zM379.6 108.2h4v4h-4zM380.6 108.1h4v4h-4zM381.7 107.9h4v4h-4zM382.7 107.7h4v4h-4zM383.8 107.5h4v4h-4zM384.8 107.4h4v4h-4zM385.9 107.2h4v4h-4zM386.9 107.0h4v4h-4zM388.0 106.8h4v4h-4zM389.0 106.7h4v4h-4zM390.1 106.5h4v4h-4zM391.1 106.3h4v4h-4zM392.2 106.1h4v4h-4zM393.2 106.0h4v4h-4zM394.3 105.8h4v4h-4zM395.3 105.6h4v4h-4zM396.4 105.5h4v4h-4zM397.4 105.3h4v4h-4zM398.5 105.1h4v4h-4zM399.5 105.0h4v4h-4zM400.6 104.8h4v4h-4zM401.6 104.6h4v4h-4zM402.7 104.5h4v4h-4zM403.7 104.3h4v4h-4zM404.8 104.1h4v4h-4zM405.8 104.0h4v4h-4zM406.9 103.8h4v4h-4zM407.9 103.7h4v4h-4zM409.0 103.5h4v4h-4zM410.0 103.3h4v4h-4zM411.1 103.2h4v4h-4zM412.1 103.0h4v4h-4zM413.2 102.9h4v4h-4zM414.2 102.7h4v4h-4zM415.3 102.5h4v4h-4z"/>
</g>
<rect x="442" y="215.3" width="3" height="2.5" fill="#7a0000"/><rect x="63.7" y="180" width="1" height="4.5" fill="#3a2800"/>
<!-- title -->
<text class="g" x="80.3" y="16.3" font-size="22.5">λ</text>
<text class="m" y="15.7"><tspan x="124.6">0</tspan><tspan x="135.4">.</tspan><tspan x="146.2">4</tspan><tspan x="157">5</tspan><tspan x="178.6">,</tspan><tspan x="200.2">v</tspan><tspan x="250.6">1</tspan><tspan x="272.2">G</tspan><tspan x="283">e</tspan><tspan x="293.8">V</tspan><tspan x="315.4">,</tspan><tspan x="380.2">1</tspan><tspan x="401.8">G</tspan><tspan x="412.6">e</tspan><tspan x="423.4">V</tspan></text>
<text class="m" x="210.6" y="22.8" style="font-size:12px" stroke="#7a0a5e" stroke-width="0.5">t</text><g fill="#7a0a5e"><rect x="104.6" y="7.2" width="10.4" height="2.1"/><rect x="104.6" y="10" width="10.4" height="2.1"/><rect x="229.9" y="7.2" width="10" height="2.1"/><rect x="229.9" y="10" width="10" height="2.1"/><rect x="359.5" y="7.2" width="10" height="2.1"/><rect x="359.5" y="10" width="10" height="2.1"/></g>
<text class="g" x="336" y="15.2" font-size="19">μ</text>
<g fill="#bc8f8f" stroke="#bc8f8f" stroke-width="0.45"><text transform="translate(353.5,103.8) rotate(-8.5)" font-size="21">λ</text><text transform="translate(365.1,107.9) rotate(-8.5)" font-size="13.5">4</text><g transform="translate(377.4,94.2) rotate(-8.5)"><rect x="-5" y="-2.9" width="10" height="2.3"/><rect x="-5" y="0.7" width="10" height="2.3"/></g><text transform="translate(387.1,99.7) rotate(-8.5)" font-size="19">+</text><text transform="translate(396.4,95.8) rotate(-8.5)" font-size="19">1</text><text transform="translate(403.6,95.3) rotate(-8.5)" font-size="19">.</text><text transform="translate(409.2,94.5) rotate(-8.5)" font-size="19">0</text></g>
<g fill="#ffa500" stroke="#ffa500" stroke-width="0.45"><text transform="translate(367.0,155.3) rotate(-13)" font-size="21">λ</text><text transform="translate(377.0,160.1) rotate(-13)" font-size="13.5">4</text><g transform="translate(389.4,144.6) rotate(-13)"><rect x="-5" y="-2.9" width="10" height="2.3"/><rect x="-5" y="0.7" width="10" height="2.3"/></g><text transform="translate(398.9,148.4) rotate(-13)" font-size="19">+</text><text transform="translate(408.4,146.4) rotate(-13)" font-size="19">0</text><text transform="translate(415.5,143.9) rotate(-13)" font-size="19">.</text><text transform="translate(420.1,141.2) rotate(-13)" font-size="19">5</text></g>
<g fill="#0000ff" stroke="#0000ff" stroke-width="0.45"><text transform="translate(364.4,191.4) rotate(-16)" font-size="21">λ</text><text transform="translate(374.6,193.6) rotate(-16)" font-size="13.5">4</text><g transform="translate(387.6,178.2) rotate(-16)"><rect x="-5" y="-2.9" width="10" height="2.3"/><rect x="-5" y="0.7" width="10" height="2.3"/></g><text transform="translate(397.4,181.8) rotate(-16)" font-size="19">+</text><text transform="translate(408.1,178.2) rotate(-16)" font-size="19">0</text><text transform="translate(415.7,175.0) rotate(-16)" font-size="19">.</text><text transform="translate(418.9,174.1) rotate(-16)" font-size="19">1</text><text transform="translate(425.7,171.9) rotate(-16)" font-size="19">2</text></g>
<g fill="#ff0000" stroke="#ff0000" stroke-width="0.45"><text transform="translate(376.2,245.0) rotate(-22)" font-size="21">λ</text><text transform="translate(387.4,245.7) rotate(-22)" font-size="13.5">4</text><g transform="translate(397.6,228.9) rotate(-22)"><rect x="-5" y="-2.9" width="10" height="2.3"/><rect x="-5" y="0.7" width="10" height="2.3"/></g><text transform="translate(407.7,229.7) rotate(-22)" font-size="23">-</text><text transform="translate(415.2,227.3) rotate(-22)" font-size="19">0</text><text transform="translate(421.9,223.8) rotate(-22)" font-size="19">.</text><text transform="translate(427.3,221.8) rotate(-22)" font-size="19">2</text></g>
<g fill="#00ff00" stroke="#00ff00" stroke-width="0.45"><text transform="translate(378.7,226.2) rotate(-20)" font-size="21">λ</text><text transform="translate(389.5,226.4) rotate(-20)" font-size="13.5">4</text><g transform="translate(400.4,210.2) rotate(-20)"><rect x="-5" y="-2.9" width="10" height="2.3"/><rect x="-5" y="0.7" width="10" height="2.3"/></g><text transform="translate(410.8,213.0) rotate(-20)" font-size="19">0</text><text transform="translate(417.6,211.1) rotate(-20)" font-size="19">.</text><text transform="translate(422.2,208.0) rotate(-20)" font-size="19">0</text></g>
<g fill="#0000ff" stroke="#0000ff" stroke-width="0.4"><text transform="translate(19.6,297.3) rotate(-90)" font-size="14">B</text><text transform="translate(19.6,287.7) rotate(-90)" font-size="14">R</text><text transform="translate(19.8,271.2) rotate(-90)" font-size="15">(</text><text transform="translate(19.7,264.8) rotate(-90)" font-size="15">h</text><text transform="translate(9.1,255.6) rotate(-90)" font-size="12.5">0</text><text transform="translate(19.8,206.1) rotate(-90)" font-size="16">&gt;</text><text transform="translate(19.8,186.7) rotate(-90)" font-size="18">γ</text><text transform="translate(19.8,178.9) rotate(-90)" font-size="18">γ</text><text transform="translate(19.9,170.9) rotate(-90)" font-size="15">)</text><rect x="13.8" y="229.3" width="1.4" height="8.7"/><rect x="13.8" y="207" width="1.4" height="19.8"/></g>
<g fill="#0000ff" stroke="#0000ff" stroke-width="0.4"><text transform="translate(250.4,460.6) rotate(0)" font-size="21">λ</text><text transform="translate(259.3,465.5) rotate(0)" font-size="13.5">1</text></g>
</svg></body></html>
